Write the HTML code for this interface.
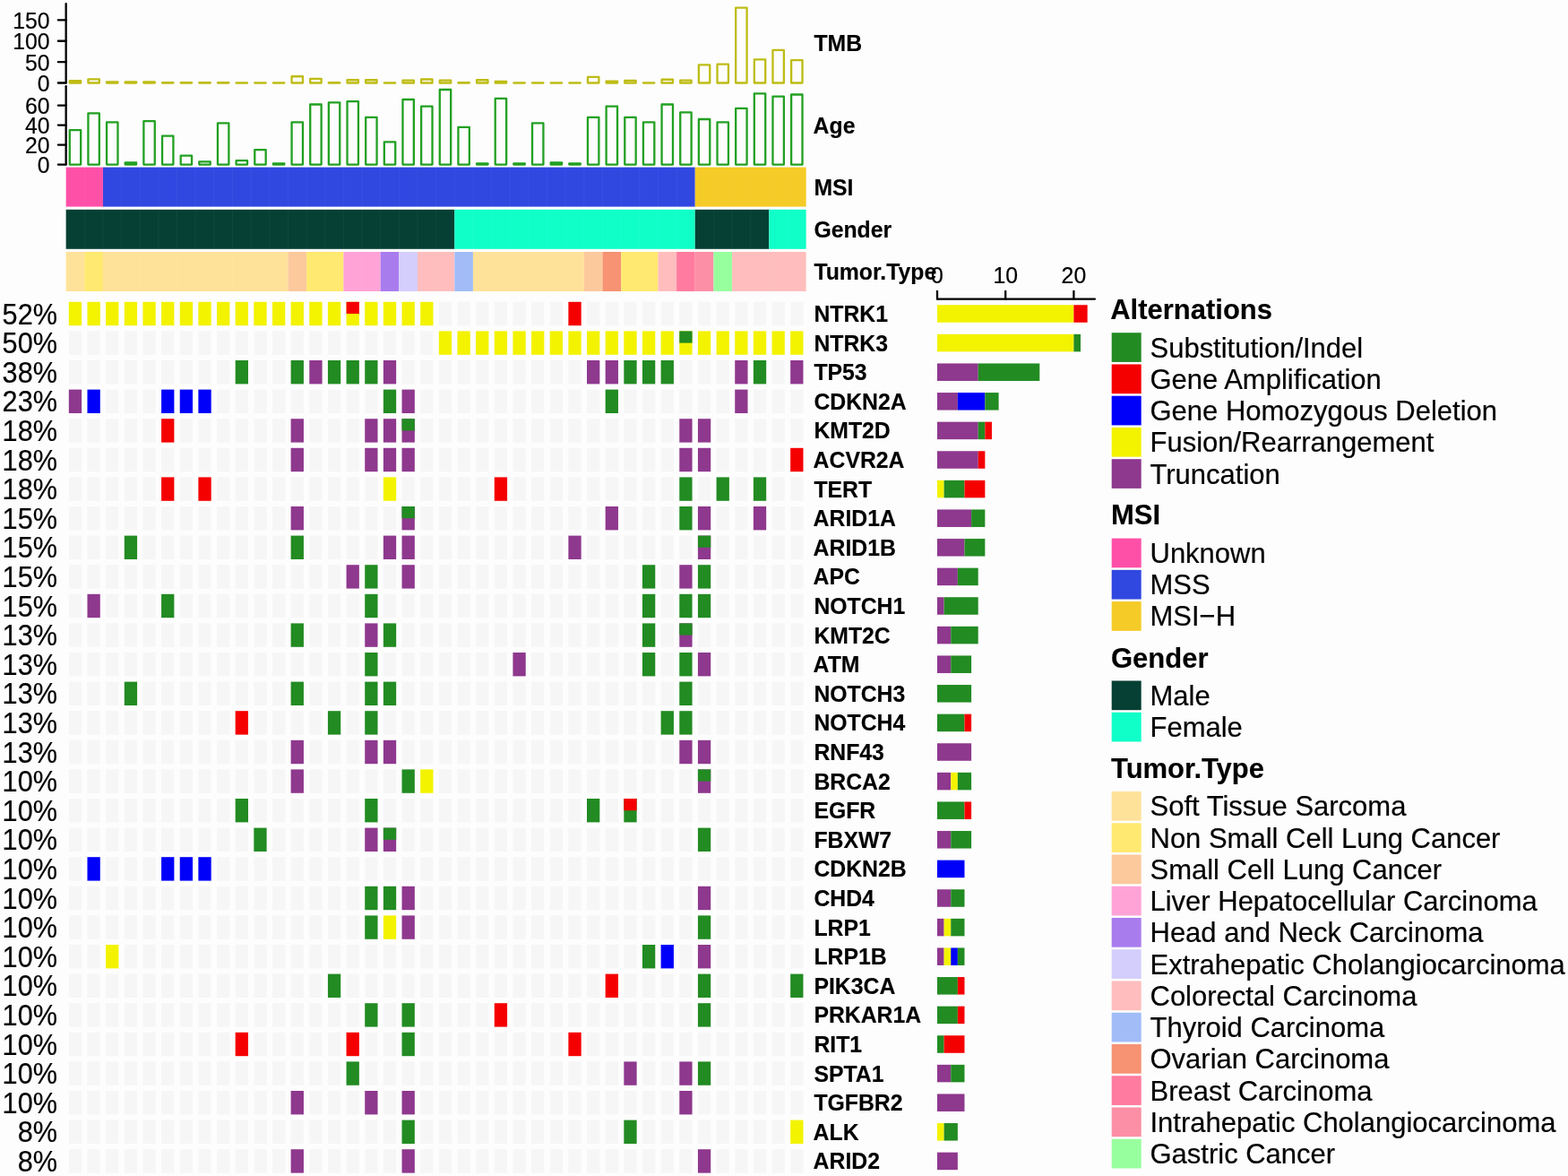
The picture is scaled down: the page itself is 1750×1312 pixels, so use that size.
<!DOCTYPE html>
<html lang="en">
<head>
<meta charset="utf-8">
<title>OncoPrint</title>
<style>
html,body{margin:0;padding:0;background:#fdfdfd;}
body{width:1750px;height:1312px;overflow:hidden;}
svg{display:block;font-family:"Liberation Sans",Arial,Helvetica,sans-serif;fill:#000;}
text{stroke:#000;stroke-width:0.2px;stroke-linejoin:round;}
text.b{font-weight:bold;stroke-width:0.15px;}
</style>
</head>
<body>
<svg width="1750" height="1312" viewBox="0 0 1750 1312">
<rect x="0" y="0" width="1750" height="1312" fill="#fdfdfd"/>
<g id="axes">
<line x1="73.65" y1="4.1" x2="73.65" y2="92.5" stroke="#000" stroke-width="2.3" stroke-linecap="round"/>
<line x1="64.85" y1="92.5" x2="73.65" y2="92.5" stroke="#000" stroke-width="2.3" stroke-linecap="round"/>
<text transform="translate(55.5 93.05) scale(1 1.06)" y="8.53" font-size="24.8" text-anchor="end">0</text>
<line x1="64.85" y1="69.14" x2="73.65" y2="69.14" stroke="#000" stroke-width="2.3" stroke-linecap="round"/>
<text transform="translate(55.5 69.69) scale(1 1.06)" y="8.53" font-size="24.8" text-anchor="end">50</text>
<line x1="64.85" y1="45.77" x2="73.65" y2="45.77" stroke="#000" stroke-width="2.3" stroke-linecap="round"/>
<text transform="translate(55.5 46.32) scale(1 1.06)" y="8.53" font-size="24.8" text-anchor="end">100</text>
<line x1="64.85" y1="22.41" x2="73.65" y2="22.41" stroke="#000" stroke-width="2.3" stroke-linecap="round"/>
<text transform="translate(55.5 22.96) scale(1 1.06)" y="8.53" font-size="24.8" text-anchor="end">150</text>
<line x1="73.65" y1="96.2" x2="73.65" y2="183.6" stroke="#000" stroke-width="2.3" stroke-linecap="round"/>
<line x1="64.85" y1="183.6" x2="73.65" y2="183.6" stroke="#000" stroke-width="2.3" stroke-linecap="round"/>
<text transform="translate(55.5 184.15) scale(1 1.06)" y="8.53" font-size="24.8" text-anchor="end">0</text>
<line x1="64.85" y1="161.6" x2="73.65" y2="161.6" stroke="#000" stroke-width="2.3" stroke-linecap="round"/>
<text transform="translate(55.5 162.15) scale(1 1.06)" y="8.53" font-size="24.8" text-anchor="end">20</text>
<line x1="64.85" y1="139.6" x2="73.65" y2="139.6" stroke="#000" stroke-width="2.3" stroke-linecap="round"/>
<text transform="translate(55.5 140.15) scale(1 1.06)" y="8.53" font-size="24.8" text-anchor="end">40</text>
<line x1="64.85" y1="117.6" x2="73.65" y2="117.6" stroke="#000" stroke-width="2.3" stroke-linecap="round"/>
<text transform="translate(55.5 118.15) scale(1 1.06)" y="8.53" font-size="24.8" text-anchor="end">60</text>
</g>
<g id="tmb" fill="none" stroke="#BEBC14" stroke-width="2.3" stroke-linejoin="round">
<path d="M77.78 92.5V90.16H90.18V92.5Z"/>
<path d="M98.42 92.5V88.29H110.83V92.5Z"/>
<path d="M119.08 92.5V91.29H131.47V92.5Z"/>
<path d="M139.73 92.5V91.29H152.12V92.5Z"/>
<path d="M160.38 92.5V91.29H172.77V92.5Z"/>
<path d="M181.03 92.5V92.22H193.42V92.5Z"/>
<path d="M201.68 92.5V92.22H214.07V92.5Z"/>
<path d="M222.33 92.5V92.22H234.72V92.5Z"/>
<path d="M242.97 92.5V92.22H255.37V92.5Z"/>
<path d="M263.62 92.5V92.36H276.02V92.5Z"/>
<path d="M284.28 92.5V92.36H296.68V92.5Z"/>
<path d="M304.93 92.5V92.5H317.32V92.5Z"/>
<path d="M325.57 92.5V85.26H337.97V92.5Z"/>
<path d="M346.22 92.5V87.83H358.62V92.5Z"/>
<path d="M366.87 92.5V92.27H379.27V92.5Z"/>
<path d="M387.53 92.5V89.23H399.93V92.5Z"/>
<path d="M408.18 92.5V89.23H420.57V92.5Z"/>
<path d="M428.82 92.5V92.5H441.22V92.5Z"/>
<path d="M449.47 92.5V89.7H461.87V92.5Z"/>
<path d="M470.12 92.5V88.48H482.52V92.5Z"/>
<path d="M490.78 92.5V89.7H503.18V92.5Z"/>
<path d="M511.43 92.5V92.03H523.83V92.5Z"/>
<path d="M532.07 92.5V89.23H544.48V92.5Z"/>
<path d="M552.72 92.5V90.86H565.12V92.5Z"/>
<path d="M573.37 92.5V92.36H585.77V92.5Z"/>
<path d="M594.02 92.5V92.36H606.42V92.5Z"/>
<path d="M614.67 92.5V92.36H627.07V92.5Z"/>
<path d="M635.32 92.5V92.5H647.73V92.5Z"/>
<path d="M655.97 92.5V85.96H668.38V92.5Z"/>
<path d="M676.62 92.5V90.63H689.02V92.5Z"/>
<path d="M697.27 92.5V89.93H709.67V92.5Z"/>
<path d="M717.92 92.5V92.36H730.32V92.5Z"/>
<path d="M738.57 92.5V88.76H750.98V92.5Z"/>
<path d="M759.22 92.5V89.7H771.62V92.5Z"/>
<path d="M779.87 92.5V72.41H792.27V92.5Z"/>
<path d="M800.52 92.5V71.71H812.92V92.5Z"/>
<path d="M821.17 92.5V8.62H833.57V92.5Z"/>
<path d="M841.82 92.5V66.33H854.23V92.5Z"/>
<path d="M862.47 92.5V55.91H874.88V92.5Z"/>
<path d="M883.12 92.5V67.03H895.52V92.5Z"/>
</g>
<g id="age" fill="none" stroke="#22A022" stroke-width="2.3" stroke-linejoin="round">
<path d="M77.78 183.6V145.1H90.18V183.6Z"/>
<path d="M98.42 183.6V126.4H110.83V183.6Z"/>
<path d="M119.08 183.6V136.3H131.47V183.6Z"/>
<path d="M139.73 183.6V181.4H152.12V183.6Z"/>
<path d="M160.38 183.6V135.2H172.77V183.6Z"/>
<path d="M181.03 183.6V151.7H193.42V183.6Z"/>
<path d="M201.68 183.6V173.7H214.07V183.6Z"/>
<path d="M222.33 183.6V180.3H234.72V183.6Z"/>
<path d="M242.97 183.6V137.4H255.37V183.6Z"/>
<path d="M263.62 183.6V179.2H276.02V183.6Z"/>
<path d="M284.28 183.6V167.1H296.68V183.6Z"/>
<path d="M304.93 183.6V182.5H317.32V183.6Z"/>
<path d="M325.57 183.6V136.3H337.97V183.6Z"/>
<path d="M346.22 183.6V116.5H358.62V183.6Z"/>
<path d="M366.87 183.6V114.3H379.27V183.6Z"/>
<path d="M387.53 183.6V113.2H399.93V183.6Z"/>
<path d="M408.18 183.6V130.8H420.57V183.6Z"/>
<path d="M428.82 183.6V158.3H441.22V183.6Z"/>
<path d="M449.47 183.6V111H461.87V183.6Z"/>
<path d="M470.12 183.6V118.7H482.52V183.6Z"/>
<path d="M490.78 183.6V100H503.18V183.6Z"/>
<path d="M511.43 183.6V141.8H523.83V183.6Z"/>
<path d="M532.07 183.6V182.5H544.48V183.6Z"/>
<path d="M552.72 183.6V109.9H565.12V183.6Z"/>
<path d="M573.37 183.6V182.5H585.77V183.6Z"/>
<path d="M594.02 183.6V137.4H606.42V183.6Z"/>
<path d="M614.67 183.6V181.4H627.07V183.6Z"/>
<path d="M635.32 183.6V182.5H647.73V183.6Z"/>
<path d="M655.97 183.6V130.8H668.38V183.6Z"/>
<path d="M676.62 183.6V118.7H689.02V183.6Z"/>
<path d="M697.27 183.6V130.8H709.67V183.6Z"/>
<path d="M717.92 183.6V136.3H730.32V183.6Z"/>
<path d="M738.57 183.6V116.5H750.98V183.6Z"/>
<path d="M759.22 183.6V125.3H771.62V183.6Z"/>
<path d="M779.87 183.6V133H792.27V183.6Z"/>
<path d="M800.52 183.6V136.3H812.92V183.6Z"/>
<path d="M821.17 183.6V120.9H833.57V183.6Z"/>
<path d="M841.82 183.6V104.4H854.23V183.6Z"/>
<path d="M862.47 183.6V107.7H874.88V183.6Z"/>
<path d="M883.12 183.6V105.5H895.52V183.6Z"/>
</g>
<g id="msi">
<rect x="73.65" y="186.6" width="41.3" height="44" fill="#FF50A8"/>
<rect x="114.95" y="186.6" width="660.8" height="44" fill="#3048E0"/>
<rect x="775.75" y="186.6" width="123.9" height="44" fill="#F5CB27"/>
<path d="M94.3 186.6v44M135.6 186.6v44M156.25 186.6v44M176.9 186.6v44M197.55 186.6v44M218.2 186.6v44M238.85 186.6v44M259.5 186.6v44M280.15 186.6v44M300.8 186.6v44M321.45 186.6v44M342.1 186.6v44M362.75 186.6v44M383.4 186.6v44M404.05 186.6v44M424.7 186.6v44M445.35 186.6v44M466 186.6v44M486.65 186.6v44M507.3 186.6v44M527.95 186.6v44M548.6 186.6v44M569.25 186.6v44M589.9 186.6v44M610.55 186.6v44M631.2 186.6v44M651.85 186.6v44M672.5 186.6v44M693.15 186.6v44M713.8 186.6v44M734.45 186.6v44M755.1 186.6v44M796.4 186.6v44M817.05 186.6v44M837.7 186.6v44M858.35 186.6v44M879 186.6v44" stroke="#fff" stroke-opacity="0.045" stroke-width="1" fill="none"/>
</g>
<g id="gender">
<rect x="73.65" y="233.8" width="433.65" height="44" fill="#064034"/>
<rect x="507.3" y="233.8" width="268.45" height="44" fill="#10FFC8"/>
<rect x="775.75" y="233.8" width="82.6" height="44" fill="#064034"/>
<rect x="858.35" y="233.8" width="41.3" height="44" fill="#10FFC8"/>
<path d="M94.3 233.8v44M114.95 233.8v44M135.6 233.8v44M156.25 233.8v44M176.9 233.8v44M197.55 233.8v44M218.2 233.8v44M238.85 233.8v44M259.5 233.8v44M280.15 233.8v44M300.8 233.8v44M321.45 233.8v44M342.1 233.8v44M362.75 233.8v44M383.4 233.8v44M404.05 233.8v44M424.7 233.8v44M445.35 233.8v44M466 233.8v44M486.65 233.8v44M527.95 233.8v44M548.6 233.8v44M569.25 233.8v44M589.9 233.8v44M610.55 233.8v44M631.2 233.8v44M651.85 233.8v44M672.5 233.8v44M693.15 233.8v44M713.8 233.8v44M734.45 233.8v44M755.1 233.8v44M796.4 233.8v44M817.05 233.8v44M837.7 233.8v44M879 233.8v44" stroke="#fff" stroke-opacity="0.045" stroke-width="1" fill="none"/>
</g>
<g id="tumortype">
<rect x="73.65" y="281" width="20.65" height="44" fill="#FFE29A"/>
<rect x="94.3" y="281" width="20.65" height="44" fill="#FFE970"/>
<rect x="114.95" y="281" width="206.5" height="44" fill="#FFE29A"/>
<rect x="321.45" y="281" width="20.65" height="44" fill="#FBC99C"/>
<rect x="342.1" y="281" width="41.3" height="44" fill="#FFE970"/>
<rect x="383.4" y="281" width="41.3" height="44" fill="#FFA3D7"/>
<rect x="424.7" y="281" width="20.65" height="44" fill="#A97CEE"/>
<rect x="445.35" y="281" width="20.65" height="44" fill="#D4CEFC"/>
<rect x="466" y="281" width="41.3" height="44" fill="#FFBDBD"/>
<rect x="507.3" y="281" width="20.65" height="44" fill="#A2BCF8"/>
<rect x="527.95" y="281" width="123.9" height="44" fill="#FFE29A"/>
<rect x="651.85" y="281" width="20.65" height="44" fill="#FBC99C"/>
<rect x="672.5" y="281" width="20.65" height="44" fill="#F79273"/>
<rect x="693.15" y="281" width="41.3" height="44" fill="#FFE970"/>
<rect x="734.45" y="281" width="20.65" height="44" fill="#FFBDBD"/>
<rect x="755.1" y="281" width="20.65" height="44" fill="#FF7B9F"/>
<rect x="775.75" y="281" width="20.65" height="44" fill="#FC8FA5"/>
<rect x="796.4" y="281" width="20.65" height="44" fill="#98FF9E"/>
<rect x="817.05" y="281" width="82.6" height="44" fill="#FFBDBD"/>
<path d="M135.6 281v44M156.25 281v44M176.9 281v44M197.55 281v44M218.2 281v44M238.85 281v44M259.5 281v44M280.15 281v44M300.8 281v44M362.75 281v44M404.05 281v44M486.65 281v44M548.6 281v44M569.25 281v44M589.9 281v44M610.55 281v44M631.2 281v44M713.8 281v44M837.7 281v44M858.35 281v44M879 281v44" stroke="#fff" stroke-opacity="0.045" stroke-width="1" fill="none"/>
</g>
<g id="annlabels" font-weight="bold">
<text transform="translate(908.4 48.5) scale(1 1.03)" y="8.53" font-size="24.8" class="b">TMB</text>
<text transform="translate(907.6 140.1) scale(1 1.03)" y="8.53" font-size="24.8" class="b">Age</text>
<text transform="translate(908.4 208.8) scale(1 1.03)" y="8.53" font-size="24.8" class="b">MSI</text>
<text transform="translate(908.4 256) scale(1 1.03)" y="8.53" font-size="24.8" class="b">Gender</text>
<text transform="translate(908.4 303.2) scale(1 1.03)" y="8.53" font-size="24.8" class="b">Tumor.Type</text>
</g>
<g id="bg" fill="#F6F6F6">
<rect x="489.82" y="336.8" width="14.3" height="26.4"/>
<rect x="510.47" y="336.8" width="14.3" height="26.4"/>
<rect x="531.12" y="336.8" width="14.3" height="26.4"/>
<rect x="551.77" y="336.8" width="14.3" height="26.4"/>
<rect x="572.42" y="336.8" width="14.3" height="26.4"/>
<rect x="593.07" y="336.8" width="14.3" height="26.4"/>
<rect x="613.72" y="336.8" width="14.3" height="26.4"/>
<rect x="655.02" y="336.8" width="14.3" height="26.4"/>
<rect x="675.67" y="336.8" width="14.3" height="26.4"/>
<rect x="696.32" y="336.8" width="14.3" height="26.4"/>
<rect x="716.97" y="336.8" width="14.3" height="26.4"/>
<rect x="737.62" y="336.8" width="14.3" height="26.4"/>
<rect x="758.27" y="336.8" width="14.3" height="26.4"/>
<rect x="778.92" y="336.8" width="14.3" height="26.4"/>
<rect x="799.57" y="336.8" width="14.3" height="26.4"/>
<rect x="820.22" y="336.8" width="14.3" height="26.4"/>
<rect x="840.87" y="336.8" width="14.3" height="26.4"/>
<rect x="861.52" y="336.8" width="14.3" height="26.4"/>
<rect x="882.17" y="336.8" width="14.3" height="26.4"/>
<rect x="76.83" y="369.4" width="14.3" height="26.4"/>
<rect x="97.48" y="369.4" width="14.3" height="26.4"/>
<rect x="118.12" y="369.4" width="14.3" height="26.4"/>
<rect x="138.78" y="369.4" width="14.3" height="26.4"/>
<rect x="159.43" y="369.4" width="14.3" height="26.4"/>
<rect x="180.08" y="369.4" width="14.3" height="26.4"/>
<rect x="200.73" y="369.4" width="14.3" height="26.4"/>
<rect x="221.38" y="369.4" width="14.3" height="26.4"/>
<rect x="242.03" y="369.4" width="14.3" height="26.4"/>
<rect x="262.68" y="369.4" width="14.3" height="26.4"/>
<rect x="283.32" y="369.4" width="14.3" height="26.4"/>
<rect x="303.97" y="369.4" width="14.3" height="26.4"/>
<rect x="324.62" y="369.4" width="14.3" height="26.4"/>
<rect x="345.28" y="369.4" width="14.3" height="26.4"/>
<rect x="365.93" y="369.4" width="14.3" height="26.4"/>
<rect x="386.57" y="369.4" width="14.3" height="26.4"/>
<rect x="407.22" y="369.4" width="14.3" height="26.4"/>
<rect x="427.87" y="369.4" width="14.3" height="26.4"/>
<rect x="448.53" y="369.4" width="14.3" height="26.4"/>
<rect x="469.18" y="369.4" width="14.3" height="26.4"/>
<rect x="76.83" y="402" width="14.3" height="26.4"/>
<rect x="97.48" y="402" width="14.3" height="26.4"/>
<rect x="118.12" y="402" width="14.3" height="26.4"/>
<rect x="138.78" y="402" width="14.3" height="26.4"/>
<rect x="159.43" y="402" width="14.3" height="26.4"/>
<rect x="180.08" y="402" width="14.3" height="26.4"/>
<rect x="200.73" y="402" width="14.3" height="26.4"/>
<rect x="221.38" y="402" width="14.3" height="26.4"/>
<rect x="242.03" y="402" width="14.3" height="26.4"/>
<rect x="283.32" y="402" width="14.3" height="26.4"/>
<rect x="303.97" y="402" width="14.3" height="26.4"/>
<rect x="448.53" y="402" width="14.3" height="26.4"/>
<rect x="469.18" y="402" width="14.3" height="26.4"/>
<rect x="489.82" y="402" width="14.3" height="26.4"/>
<rect x="510.47" y="402" width="14.3" height="26.4"/>
<rect x="531.12" y="402" width="14.3" height="26.4"/>
<rect x="551.77" y="402" width="14.3" height="26.4"/>
<rect x="572.42" y="402" width="14.3" height="26.4"/>
<rect x="593.07" y="402" width="14.3" height="26.4"/>
<rect x="613.72" y="402" width="14.3" height="26.4"/>
<rect x="634.37" y="402" width="14.3" height="26.4"/>
<rect x="758.27" y="402" width="14.3" height="26.4"/>
<rect x="778.92" y="402" width="14.3" height="26.4"/>
<rect x="799.57" y="402" width="14.3" height="26.4"/>
<rect x="861.52" y="402" width="14.3" height="26.4"/>
<rect x="118.12" y="434.6" width="14.3" height="26.4"/>
<rect x="138.78" y="434.6" width="14.3" height="26.4"/>
<rect x="159.43" y="434.6" width="14.3" height="26.4"/>
<rect x="242.03" y="434.6" width="14.3" height="26.4"/>
<rect x="262.68" y="434.6" width="14.3" height="26.4"/>
<rect x="283.32" y="434.6" width="14.3" height="26.4"/>
<rect x="303.97" y="434.6" width="14.3" height="26.4"/>
<rect x="324.62" y="434.6" width="14.3" height="26.4"/>
<rect x="345.28" y="434.6" width="14.3" height="26.4"/>
<rect x="365.93" y="434.6" width="14.3" height="26.4"/>
<rect x="386.57" y="434.6" width="14.3" height="26.4"/>
<rect x="407.22" y="434.6" width="14.3" height="26.4"/>
<rect x="469.18" y="434.6" width="14.3" height="26.4"/>
<rect x="489.82" y="434.6" width="14.3" height="26.4"/>
<rect x="510.47" y="434.6" width="14.3" height="26.4"/>
<rect x="531.12" y="434.6" width="14.3" height="26.4"/>
<rect x="551.77" y="434.6" width="14.3" height="26.4"/>
<rect x="572.42" y="434.6" width="14.3" height="26.4"/>
<rect x="593.07" y="434.6" width="14.3" height="26.4"/>
<rect x="613.72" y="434.6" width="14.3" height="26.4"/>
<rect x="634.37" y="434.6" width="14.3" height="26.4"/>
<rect x="655.02" y="434.6" width="14.3" height="26.4"/>
<rect x="696.32" y="434.6" width="14.3" height="26.4"/>
<rect x="716.97" y="434.6" width="14.3" height="26.4"/>
<rect x="737.62" y="434.6" width="14.3" height="26.4"/>
<rect x="758.27" y="434.6" width="14.3" height="26.4"/>
<rect x="778.92" y="434.6" width="14.3" height="26.4"/>
<rect x="799.57" y="434.6" width="14.3" height="26.4"/>
<rect x="840.87" y="434.6" width="14.3" height="26.4"/>
<rect x="861.52" y="434.6" width="14.3" height="26.4"/>
<rect x="882.17" y="434.6" width="14.3" height="26.4"/>
<rect x="76.83" y="467.2" width="14.3" height="26.4"/>
<rect x="97.48" y="467.2" width="14.3" height="26.4"/>
<rect x="118.12" y="467.2" width="14.3" height="26.4"/>
<rect x="138.78" y="467.2" width="14.3" height="26.4"/>
<rect x="159.43" y="467.2" width="14.3" height="26.4"/>
<rect x="200.73" y="467.2" width="14.3" height="26.4"/>
<rect x="221.38" y="467.2" width="14.3" height="26.4"/>
<rect x="242.03" y="467.2" width="14.3" height="26.4"/>
<rect x="262.68" y="467.2" width="14.3" height="26.4"/>
<rect x="283.32" y="467.2" width="14.3" height="26.4"/>
<rect x="303.97" y="467.2" width="14.3" height="26.4"/>
<rect x="345.28" y="467.2" width="14.3" height="26.4"/>
<rect x="365.93" y="467.2" width="14.3" height="26.4"/>
<rect x="386.57" y="467.2" width="14.3" height="26.4"/>
<rect x="469.18" y="467.2" width="14.3" height="26.4"/>
<rect x="489.82" y="467.2" width="14.3" height="26.4"/>
<rect x="510.47" y="467.2" width="14.3" height="26.4"/>
<rect x="531.12" y="467.2" width="14.3" height="26.4"/>
<rect x="551.77" y="467.2" width="14.3" height="26.4"/>
<rect x="572.42" y="467.2" width="14.3" height="26.4"/>
<rect x="593.07" y="467.2" width="14.3" height="26.4"/>
<rect x="613.72" y="467.2" width="14.3" height="26.4"/>
<rect x="634.37" y="467.2" width="14.3" height="26.4"/>
<rect x="655.02" y="467.2" width="14.3" height="26.4"/>
<rect x="675.67" y="467.2" width="14.3" height="26.4"/>
<rect x="696.32" y="467.2" width="14.3" height="26.4"/>
<rect x="716.97" y="467.2" width="14.3" height="26.4"/>
<rect x="737.62" y="467.2" width="14.3" height="26.4"/>
<rect x="799.57" y="467.2" width="14.3" height="26.4"/>
<rect x="820.22" y="467.2" width="14.3" height="26.4"/>
<rect x="840.87" y="467.2" width="14.3" height="26.4"/>
<rect x="861.52" y="467.2" width="14.3" height="26.4"/>
<rect x="882.17" y="467.2" width="14.3" height="26.4"/>
<rect x="76.83" y="499.8" width="14.3" height="26.4"/>
<rect x="97.48" y="499.8" width="14.3" height="26.4"/>
<rect x="118.12" y="499.8" width="14.3" height="26.4"/>
<rect x="138.78" y="499.8" width="14.3" height="26.4"/>
<rect x="159.43" y="499.8" width="14.3" height="26.4"/>
<rect x="180.08" y="499.8" width="14.3" height="26.4"/>
<rect x="200.73" y="499.8" width="14.3" height="26.4"/>
<rect x="221.38" y="499.8" width="14.3" height="26.4"/>
<rect x="242.03" y="499.8" width="14.3" height="26.4"/>
<rect x="262.68" y="499.8" width="14.3" height="26.4"/>
<rect x="283.32" y="499.8" width="14.3" height="26.4"/>
<rect x="303.97" y="499.8" width="14.3" height="26.4"/>
<rect x="345.28" y="499.8" width="14.3" height="26.4"/>
<rect x="365.93" y="499.8" width="14.3" height="26.4"/>
<rect x="386.57" y="499.8" width="14.3" height="26.4"/>
<rect x="469.18" y="499.8" width="14.3" height="26.4"/>
<rect x="489.82" y="499.8" width="14.3" height="26.4"/>
<rect x="510.47" y="499.8" width="14.3" height="26.4"/>
<rect x="531.12" y="499.8" width="14.3" height="26.4"/>
<rect x="551.77" y="499.8" width="14.3" height="26.4"/>
<rect x="572.42" y="499.8" width="14.3" height="26.4"/>
<rect x="593.07" y="499.8" width="14.3" height="26.4"/>
<rect x="613.72" y="499.8" width="14.3" height="26.4"/>
<rect x="634.37" y="499.8" width="14.3" height="26.4"/>
<rect x="655.02" y="499.8" width="14.3" height="26.4"/>
<rect x="675.67" y="499.8" width="14.3" height="26.4"/>
<rect x="696.32" y="499.8" width="14.3" height="26.4"/>
<rect x="716.97" y="499.8" width="14.3" height="26.4"/>
<rect x="737.62" y="499.8" width="14.3" height="26.4"/>
<rect x="799.57" y="499.8" width="14.3" height="26.4"/>
<rect x="820.22" y="499.8" width="14.3" height="26.4"/>
<rect x="840.87" y="499.8" width="14.3" height="26.4"/>
<rect x="861.52" y="499.8" width="14.3" height="26.4"/>
<rect x="76.83" y="532.4" width="14.3" height="26.4"/>
<rect x="97.48" y="532.4" width="14.3" height="26.4"/>
<rect x="118.12" y="532.4" width="14.3" height="26.4"/>
<rect x="138.78" y="532.4" width="14.3" height="26.4"/>
<rect x="159.43" y="532.4" width="14.3" height="26.4"/>
<rect x="200.73" y="532.4" width="14.3" height="26.4"/>
<rect x="242.03" y="532.4" width="14.3" height="26.4"/>
<rect x="262.68" y="532.4" width="14.3" height="26.4"/>
<rect x="283.32" y="532.4" width="14.3" height="26.4"/>
<rect x="303.97" y="532.4" width="14.3" height="26.4"/>
<rect x="324.62" y="532.4" width="14.3" height="26.4"/>
<rect x="345.28" y="532.4" width="14.3" height="26.4"/>
<rect x="365.93" y="532.4" width="14.3" height="26.4"/>
<rect x="386.57" y="532.4" width="14.3" height="26.4"/>
<rect x="407.22" y="532.4" width="14.3" height="26.4"/>
<rect x="448.53" y="532.4" width="14.3" height="26.4"/>
<rect x="469.18" y="532.4" width="14.3" height="26.4"/>
<rect x="489.82" y="532.4" width="14.3" height="26.4"/>
<rect x="510.47" y="532.4" width="14.3" height="26.4"/>
<rect x="531.12" y="532.4" width="14.3" height="26.4"/>
<rect x="572.42" y="532.4" width="14.3" height="26.4"/>
<rect x="593.07" y="532.4" width="14.3" height="26.4"/>
<rect x="613.72" y="532.4" width="14.3" height="26.4"/>
<rect x="634.37" y="532.4" width="14.3" height="26.4"/>
<rect x="655.02" y="532.4" width="14.3" height="26.4"/>
<rect x="675.67" y="532.4" width="14.3" height="26.4"/>
<rect x="696.32" y="532.4" width="14.3" height="26.4"/>
<rect x="716.97" y="532.4" width="14.3" height="26.4"/>
<rect x="737.62" y="532.4" width="14.3" height="26.4"/>
<rect x="778.92" y="532.4" width="14.3" height="26.4"/>
<rect x="820.22" y="532.4" width="14.3" height="26.4"/>
<rect x="861.52" y="532.4" width="14.3" height="26.4"/>
<rect x="882.17" y="532.4" width="14.3" height="26.4"/>
<rect x="76.83" y="565" width="14.3" height="26.4"/>
<rect x="97.48" y="565" width="14.3" height="26.4"/>
<rect x="118.12" y="565" width="14.3" height="26.4"/>
<rect x="138.78" y="565" width="14.3" height="26.4"/>
<rect x="159.43" y="565" width="14.3" height="26.4"/>
<rect x="180.08" y="565" width="14.3" height="26.4"/>
<rect x="200.73" y="565" width="14.3" height="26.4"/>
<rect x="221.38" y="565" width="14.3" height="26.4"/>
<rect x="242.03" y="565" width="14.3" height="26.4"/>
<rect x="262.68" y="565" width="14.3" height="26.4"/>
<rect x="283.32" y="565" width="14.3" height="26.4"/>
<rect x="303.97" y="565" width="14.3" height="26.4"/>
<rect x="345.28" y="565" width="14.3" height="26.4"/>
<rect x="365.93" y="565" width="14.3" height="26.4"/>
<rect x="386.57" y="565" width="14.3" height="26.4"/>
<rect x="407.22" y="565" width="14.3" height="26.4"/>
<rect x="427.87" y="565" width="14.3" height="26.4"/>
<rect x="469.18" y="565" width="14.3" height="26.4"/>
<rect x="489.82" y="565" width="14.3" height="26.4"/>
<rect x="510.47" y="565" width="14.3" height="26.4"/>
<rect x="531.12" y="565" width="14.3" height="26.4"/>
<rect x="551.77" y="565" width="14.3" height="26.4"/>
<rect x="572.42" y="565" width="14.3" height="26.4"/>
<rect x="593.07" y="565" width="14.3" height="26.4"/>
<rect x="613.72" y="565" width="14.3" height="26.4"/>
<rect x="634.37" y="565" width="14.3" height="26.4"/>
<rect x="655.02" y="565" width="14.3" height="26.4"/>
<rect x="696.32" y="565" width="14.3" height="26.4"/>
<rect x="716.97" y="565" width="14.3" height="26.4"/>
<rect x="737.62" y="565" width="14.3" height="26.4"/>
<rect x="799.57" y="565" width="14.3" height="26.4"/>
<rect x="820.22" y="565" width="14.3" height="26.4"/>
<rect x="861.52" y="565" width="14.3" height="26.4"/>
<rect x="882.17" y="565" width="14.3" height="26.4"/>
<rect x="76.83" y="597.6" width="14.3" height="26.4"/>
<rect x="97.48" y="597.6" width="14.3" height="26.4"/>
<rect x="118.12" y="597.6" width="14.3" height="26.4"/>
<rect x="159.43" y="597.6" width="14.3" height="26.4"/>
<rect x="180.08" y="597.6" width="14.3" height="26.4"/>
<rect x="200.73" y="597.6" width="14.3" height="26.4"/>
<rect x="221.38" y="597.6" width="14.3" height="26.4"/>
<rect x="242.03" y="597.6" width="14.3" height="26.4"/>
<rect x="262.68" y="597.6" width="14.3" height="26.4"/>
<rect x="283.32" y="597.6" width="14.3" height="26.4"/>
<rect x="303.97" y="597.6" width="14.3" height="26.4"/>
<rect x="345.28" y="597.6" width="14.3" height="26.4"/>
<rect x="365.93" y="597.6" width="14.3" height="26.4"/>
<rect x="386.57" y="597.6" width="14.3" height="26.4"/>
<rect x="407.22" y="597.6" width="14.3" height="26.4"/>
<rect x="469.18" y="597.6" width="14.3" height="26.4"/>
<rect x="489.82" y="597.6" width="14.3" height="26.4"/>
<rect x="510.47" y="597.6" width="14.3" height="26.4"/>
<rect x="531.12" y="597.6" width="14.3" height="26.4"/>
<rect x="551.77" y="597.6" width="14.3" height="26.4"/>
<rect x="572.42" y="597.6" width="14.3" height="26.4"/>
<rect x="593.07" y="597.6" width="14.3" height="26.4"/>
<rect x="613.72" y="597.6" width="14.3" height="26.4"/>
<rect x="655.02" y="597.6" width="14.3" height="26.4"/>
<rect x="675.67" y="597.6" width="14.3" height="26.4"/>
<rect x="696.32" y="597.6" width="14.3" height="26.4"/>
<rect x="716.97" y="597.6" width="14.3" height="26.4"/>
<rect x="737.62" y="597.6" width="14.3" height="26.4"/>
<rect x="758.27" y="597.6" width="14.3" height="26.4"/>
<rect x="799.57" y="597.6" width="14.3" height="26.4"/>
<rect x="820.22" y="597.6" width="14.3" height="26.4"/>
<rect x="840.87" y="597.6" width="14.3" height="26.4"/>
<rect x="861.52" y="597.6" width="14.3" height="26.4"/>
<rect x="882.17" y="597.6" width="14.3" height="26.4"/>
<rect x="76.83" y="630.2" width="14.3" height="26.4"/>
<rect x="97.48" y="630.2" width="14.3" height="26.4"/>
<rect x="118.12" y="630.2" width="14.3" height="26.4"/>
<rect x="138.78" y="630.2" width="14.3" height="26.4"/>
<rect x="159.43" y="630.2" width="14.3" height="26.4"/>
<rect x="180.08" y="630.2" width="14.3" height="26.4"/>
<rect x="200.73" y="630.2" width="14.3" height="26.4"/>
<rect x="221.38" y="630.2" width="14.3" height="26.4"/>
<rect x="242.03" y="630.2" width="14.3" height="26.4"/>
<rect x="262.68" y="630.2" width="14.3" height="26.4"/>
<rect x="283.32" y="630.2" width="14.3" height="26.4"/>
<rect x="303.97" y="630.2" width="14.3" height="26.4"/>
<rect x="324.62" y="630.2" width="14.3" height="26.4"/>
<rect x="345.28" y="630.2" width="14.3" height="26.4"/>
<rect x="365.93" y="630.2" width="14.3" height="26.4"/>
<rect x="427.87" y="630.2" width="14.3" height="26.4"/>
<rect x="469.18" y="630.2" width="14.3" height="26.4"/>
<rect x="489.82" y="630.2" width="14.3" height="26.4"/>
<rect x="510.47" y="630.2" width="14.3" height="26.4"/>
<rect x="531.12" y="630.2" width="14.3" height="26.4"/>
<rect x="551.77" y="630.2" width="14.3" height="26.4"/>
<rect x="572.42" y="630.2" width="14.3" height="26.4"/>
<rect x="593.07" y="630.2" width="14.3" height="26.4"/>
<rect x="613.72" y="630.2" width="14.3" height="26.4"/>
<rect x="634.37" y="630.2" width="14.3" height="26.4"/>
<rect x="655.02" y="630.2" width="14.3" height="26.4"/>
<rect x="675.67" y="630.2" width="14.3" height="26.4"/>
<rect x="696.32" y="630.2" width="14.3" height="26.4"/>
<rect x="737.62" y="630.2" width="14.3" height="26.4"/>
<rect x="799.57" y="630.2" width="14.3" height="26.4"/>
<rect x="820.22" y="630.2" width="14.3" height="26.4"/>
<rect x="840.87" y="630.2" width="14.3" height="26.4"/>
<rect x="861.52" y="630.2" width="14.3" height="26.4"/>
<rect x="882.17" y="630.2" width="14.3" height="26.4"/>
<rect x="76.83" y="662.8" width="14.3" height="26.4"/>
<rect x="118.12" y="662.8" width="14.3" height="26.4"/>
<rect x="138.78" y="662.8" width="14.3" height="26.4"/>
<rect x="159.43" y="662.8" width="14.3" height="26.4"/>
<rect x="200.73" y="662.8" width="14.3" height="26.4"/>
<rect x="221.38" y="662.8" width="14.3" height="26.4"/>
<rect x="242.03" y="662.8" width="14.3" height="26.4"/>
<rect x="262.68" y="662.8" width="14.3" height="26.4"/>
<rect x="283.32" y="662.8" width="14.3" height="26.4"/>
<rect x="303.97" y="662.8" width="14.3" height="26.4"/>
<rect x="324.62" y="662.8" width="14.3" height="26.4"/>
<rect x="345.28" y="662.8" width="14.3" height="26.4"/>
<rect x="365.93" y="662.8" width="14.3" height="26.4"/>
<rect x="386.57" y="662.8" width="14.3" height="26.4"/>
<rect x="427.87" y="662.8" width="14.3" height="26.4"/>
<rect x="448.53" y="662.8" width="14.3" height="26.4"/>
<rect x="469.18" y="662.8" width="14.3" height="26.4"/>
<rect x="489.82" y="662.8" width="14.3" height="26.4"/>
<rect x="510.47" y="662.8" width="14.3" height="26.4"/>
<rect x="531.12" y="662.8" width="14.3" height="26.4"/>
<rect x="551.77" y="662.8" width="14.3" height="26.4"/>
<rect x="572.42" y="662.8" width="14.3" height="26.4"/>
<rect x="593.07" y="662.8" width="14.3" height="26.4"/>
<rect x="613.72" y="662.8" width="14.3" height="26.4"/>
<rect x="634.37" y="662.8" width="14.3" height="26.4"/>
<rect x="655.02" y="662.8" width="14.3" height="26.4"/>
<rect x="675.67" y="662.8" width="14.3" height="26.4"/>
<rect x="696.32" y="662.8" width="14.3" height="26.4"/>
<rect x="737.62" y="662.8" width="14.3" height="26.4"/>
<rect x="799.57" y="662.8" width="14.3" height="26.4"/>
<rect x="820.22" y="662.8" width="14.3" height="26.4"/>
<rect x="840.87" y="662.8" width="14.3" height="26.4"/>
<rect x="861.52" y="662.8" width="14.3" height="26.4"/>
<rect x="882.17" y="662.8" width="14.3" height="26.4"/>
<rect x="76.83" y="695.4" width="14.3" height="26.4"/>
<rect x="97.48" y="695.4" width="14.3" height="26.4"/>
<rect x="118.12" y="695.4" width="14.3" height="26.4"/>
<rect x="138.78" y="695.4" width="14.3" height="26.4"/>
<rect x="159.43" y="695.4" width="14.3" height="26.4"/>
<rect x="180.08" y="695.4" width="14.3" height="26.4"/>
<rect x="200.73" y="695.4" width="14.3" height="26.4"/>
<rect x="221.38" y="695.4" width="14.3" height="26.4"/>
<rect x="242.03" y="695.4" width="14.3" height="26.4"/>
<rect x="262.68" y="695.4" width="14.3" height="26.4"/>
<rect x="283.32" y="695.4" width="14.3" height="26.4"/>
<rect x="303.97" y="695.4" width="14.3" height="26.4"/>
<rect x="345.28" y="695.4" width="14.3" height="26.4"/>
<rect x="365.93" y="695.4" width="14.3" height="26.4"/>
<rect x="386.57" y="695.4" width="14.3" height="26.4"/>
<rect x="448.53" y="695.4" width="14.3" height="26.4"/>
<rect x="469.18" y="695.4" width="14.3" height="26.4"/>
<rect x="489.82" y="695.4" width="14.3" height="26.4"/>
<rect x="510.47" y="695.4" width="14.3" height="26.4"/>
<rect x="531.12" y="695.4" width="14.3" height="26.4"/>
<rect x="551.77" y="695.4" width="14.3" height="26.4"/>
<rect x="572.42" y="695.4" width="14.3" height="26.4"/>
<rect x="593.07" y="695.4" width="14.3" height="26.4"/>
<rect x="613.72" y="695.4" width="14.3" height="26.4"/>
<rect x="634.37" y="695.4" width="14.3" height="26.4"/>
<rect x="655.02" y="695.4" width="14.3" height="26.4"/>
<rect x="675.67" y="695.4" width="14.3" height="26.4"/>
<rect x="696.32" y="695.4" width="14.3" height="26.4"/>
<rect x="737.62" y="695.4" width="14.3" height="26.4"/>
<rect x="778.92" y="695.4" width="14.3" height="26.4"/>
<rect x="799.57" y="695.4" width="14.3" height="26.4"/>
<rect x="820.22" y="695.4" width="14.3" height="26.4"/>
<rect x="840.87" y="695.4" width="14.3" height="26.4"/>
<rect x="861.52" y="695.4" width="14.3" height="26.4"/>
<rect x="882.17" y="695.4" width="14.3" height="26.4"/>
<rect x="76.83" y="728" width="14.3" height="26.4"/>
<rect x="97.48" y="728" width="14.3" height="26.4"/>
<rect x="118.12" y="728" width="14.3" height="26.4"/>
<rect x="138.78" y="728" width="14.3" height="26.4"/>
<rect x="159.43" y="728" width="14.3" height="26.4"/>
<rect x="180.08" y="728" width="14.3" height="26.4"/>
<rect x="200.73" y="728" width="14.3" height="26.4"/>
<rect x="221.38" y="728" width="14.3" height="26.4"/>
<rect x="242.03" y="728" width="14.3" height="26.4"/>
<rect x="262.68" y="728" width="14.3" height="26.4"/>
<rect x="283.32" y="728" width="14.3" height="26.4"/>
<rect x="303.97" y="728" width="14.3" height="26.4"/>
<rect x="324.62" y="728" width="14.3" height="26.4"/>
<rect x="345.28" y="728" width="14.3" height="26.4"/>
<rect x="365.93" y="728" width="14.3" height="26.4"/>
<rect x="386.57" y="728" width="14.3" height="26.4"/>
<rect x="427.87" y="728" width="14.3" height="26.4"/>
<rect x="448.53" y="728" width="14.3" height="26.4"/>
<rect x="469.18" y="728" width="14.3" height="26.4"/>
<rect x="489.82" y="728" width="14.3" height="26.4"/>
<rect x="510.47" y="728" width="14.3" height="26.4"/>
<rect x="531.12" y="728" width="14.3" height="26.4"/>
<rect x="551.77" y="728" width="14.3" height="26.4"/>
<rect x="593.07" y="728" width="14.3" height="26.4"/>
<rect x="613.72" y="728" width="14.3" height="26.4"/>
<rect x="634.37" y="728" width="14.3" height="26.4"/>
<rect x="655.02" y="728" width="14.3" height="26.4"/>
<rect x="675.67" y="728" width="14.3" height="26.4"/>
<rect x="696.32" y="728" width="14.3" height="26.4"/>
<rect x="737.62" y="728" width="14.3" height="26.4"/>
<rect x="799.57" y="728" width="14.3" height="26.4"/>
<rect x="820.22" y="728" width="14.3" height="26.4"/>
<rect x="840.87" y="728" width="14.3" height="26.4"/>
<rect x="861.52" y="728" width="14.3" height="26.4"/>
<rect x="882.17" y="728" width="14.3" height="26.4"/>
<rect x="76.83" y="760.6" width="14.3" height="26.4"/>
<rect x="97.48" y="760.6" width="14.3" height="26.4"/>
<rect x="118.12" y="760.6" width="14.3" height="26.4"/>
<rect x="159.43" y="760.6" width="14.3" height="26.4"/>
<rect x="180.08" y="760.6" width="14.3" height="26.4"/>
<rect x="200.73" y="760.6" width="14.3" height="26.4"/>
<rect x="221.38" y="760.6" width="14.3" height="26.4"/>
<rect x="242.03" y="760.6" width="14.3" height="26.4"/>
<rect x="262.68" y="760.6" width="14.3" height="26.4"/>
<rect x="283.32" y="760.6" width="14.3" height="26.4"/>
<rect x="303.97" y="760.6" width="14.3" height="26.4"/>
<rect x="345.28" y="760.6" width="14.3" height="26.4"/>
<rect x="365.93" y="760.6" width="14.3" height="26.4"/>
<rect x="386.57" y="760.6" width="14.3" height="26.4"/>
<rect x="448.53" y="760.6" width="14.3" height="26.4"/>
<rect x="469.18" y="760.6" width="14.3" height="26.4"/>
<rect x="489.82" y="760.6" width="14.3" height="26.4"/>
<rect x="510.47" y="760.6" width="14.3" height="26.4"/>
<rect x="531.12" y="760.6" width="14.3" height="26.4"/>
<rect x="551.77" y="760.6" width="14.3" height="26.4"/>
<rect x="572.42" y="760.6" width="14.3" height="26.4"/>
<rect x="593.07" y="760.6" width="14.3" height="26.4"/>
<rect x="613.72" y="760.6" width="14.3" height="26.4"/>
<rect x="634.37" y="760.6" width="14.3" height="26.4"/>
<rect x="655.02" y="760.6" width="14.3" height="26.4"/>
<rect x="675.67" y="760.6" width="14.3" height="26.4"/>
<rect x="696.32" y="760.6" width="14.3" height="26.4"/>
<rect x="716.97" y="760.6" width="14.3" height="26.4"/>
<rect x="737.62" y="760.6" width="14.3" height="26.4"/>
<rect x="778.92" y="760.6" width="14.3" height="26.4"/>
<rect x="799.57" y="760.6" width="14.3" height="26.4"/>
<rect x="820.22" y="760.6" width="14.3" height="26.4"/>
<rect x="840.87" y="760.6" width="14.3" height="26.4"/>
<rect x="861.52" y="760.6" width="14.3" height="26.4"/>
<rect x="882.17" y="760.6" width="14.3" height="26.4"/>
<rect x="76.83" y="793.2" width="14.3" height="26.4"/>
<rect x="97.48" y="793.2" width="14.3" height="26.4"/>
<rect x="118.12" y="793.2" width="14.3" height="26.4"/>
<rect x="138.78" y="793.2" width="14.3" height="26.4"/>
<rect x="159.43" y="793.2" width="14.3" height="26.4"/>
<rect x="180.08" y="793.2" width="14.3" height="26.4"/>
<rect x="200.73" y="793.2" width="14.3" height="26.4"/>
<rect x="221.38" y="793.2" width="14.3" height="26.4"/>
<rect x="242.03" y="793.2" width="14.3" height="26.4"/>
<rect x="283.32" y="793.2" width="14.3" height="26.4"/>
<rect x="303.97" y="793.2" width="14.3" height="26.4"/>
<rect x="324.62" y="793.2" width="14.3" height="26.4"/>
<rect x="345.28" y="793.2" width="14.3" height="26.4"/>
<rect x="386.57" y="793.2" width="14.3" height="26.4"/>
<rect x="427.87" y="793.2" width="14.3" height="26.4"/>
<rect x="448.53" y="793.2" width="14.3" height="26.4"/>
<rect x="469.18" y="793.2" width="14.3" height="26.4"/>
<rect x="489.82" y="793.2" width="14.3" height="26.4"/>
<rect x="510.47" y="793.2" width="14.3" height="26.4"/>
<rect x="531.12" y="793.2" width="14.3" height="26.4"/>
<rect x="551.77" y="793.2" width="14.3" height="26.4"/>
<rect x="572.42" y="793.2" width="14.3" height="26.4"/>
<rect x="593.07" y="793.2" width="14.3" height="26.4"/>
<rect x="613.72" y="793.2" width="14.3" height="26.4"/>
<rect x="634.37" y="793.2" width="14.3" height="26.4"/>
<rect x="655.02" y="793.2" width="14.3" height="26.4"/>
<rect x="675.67" y="793.2" width="14.3" height="26.4"/>
<rect x="696.32" y="793.2" width="14.3" height="26.4"/>
<rect x="716.97" y="793.2" width="14.3" height="26.4"/>
<rect x="778.92" y="793.2" width="14.3" height="26.4"/>
<rect x="799.57" y="793.2" width="14.3" height="26.4"/>
<rect x="820.22" y="793.2" width="14.3" height="26.4"/>
<rect x="840.87" y="793.2" width="14.3" height="26.4"/>
<rect x="861.52" y="793.2" width="14.3" height="26.4"/>
<rect x="882.17" y="793.2" width="14.3" height="26.4"/>
<rect x="76.83" y="825.8" width="14.3" height="26.4"/>
<rect x="97.48" y="825.8" width="14.3" height="26.4"/>
<rect x="118.12" y="825.8" width="14.3" height="26.4"/>
<rect x="138.78" y="825.8" width="14.3" height="26.4"/>
<rect x="159.43" y="825.8" width="14.3" height="26.4"/>
<rect x="180.08" y="825.8" width="14.3" height="26.4"/>
<rect x="200.73" y="825.8" width="14.3" height="26.4"/>
<rect x="221.38" y="825.8" width="14.3" height="26.4"/>
<rect x="242.03" y="825.8" width="14.3" height="26.4"/>
<rect x="262.68" y="825.8" width="14.3" height="26.4"/>
<rect x="283.32" y="825.8" width="14.3" height="26.4"/>
<rect x="303.97" y="825.8" width="14.3" height="26.4"/>
<rect x="345.28" y="825.8" width="14.3" height="26.4"/>
<rect x="365.93" y="825.8" width="14.3" height="26.4"/>
<rect x="386.57" y="825.8" width="14.3" height="26.4"/>
<rect x="448.53" y="825.8" width="14.3" height="26.4"/>
<rect x="469.18" y="825.8" width="14.3" height="26.4"/>
<rect x="489.82" y="825.8" width="14.3" height="26.4"/>
<rect x="510.47" y="825.8" width="14.3" height="26.4"/>
<rect x="531.12" y="825.8" width="14.3" height="26.4"/>
<rect x="551.77" y="825.8" width="14.3" height="26.4"/>
<rect x="572.42" y="825.8" width="14.3" height="26.4"/>
<rect x="593.07" y="825.8" width="14.3" height="26.4"/>
<rect x="613.72" y="825.8" width="14.3" height="26.4"/>
<rect x="634.37" y="825.8" width="14.3" height="26.4"/>
<rect x="655.02" y="825.8" width="14.3" height="26.4"/>
<rect x="675.67" y="825.8" width="14.3" height="26.4"/>
<rect x="696.32" y="825.8" width="14.3" height="26.4"/>
<rect x="716.97" y="825.8" width="14.3" height="26.4"/>
<rect x="737.62" y="825.8" width="14.3" height="26.4"/>
<rect x="799.57" y="825.8" width="14.3" height="26.4"/>
<rect x="820.22" y="825.8" width="14.3" height="26.4"/>
<rect x="840.87" y="825.8" width="14.3" height="26.4"/>
<rect x="861.52" y="825.8" width="14.3" height="26.4"/>
<rect x="882.17" y="825.8" width="14.3" height="26.4"/>
<rect x="76.83" y="858.4" width="14.3" height="26.4"/>
<rect x="97.48" y="858.4" width="14.3" height="26.4"/>
<rect x="118.12" y="858.4" width="14.3" height="26.4"/>
<rect x="138.78" y="858.4" width="14.3" height="26.4"/>
<rect x="159.43" y="858.4" width="14.3" height="26.4"/>
<rect x="180.08" y="858.4" width="14.3" height="26.4"/>
<rect x="200.73" y="858.4" width="14.3" height="26.4"/>
<rect x="221.38" y="858.4" width="14.3" height="26.4"/>
<rect x="242.03" y="858.4" width="14.3" height="26.4"/>
<rect x="262.68" y="858.4" width="14.3" height="26.4"/>
<rect x="283.32" y="858.4" width="14.3" height="26.4"/>
<rect x="303.97" y="858.4" width="14.3" height="26.4"/>
<rect x="345.28" y="858.4" width="14.3" height="26.4"/>
<rect x="365.93" y="858.4" width="14.3" height="26.4"/>
<rect x="386.57" y="858.4" width="14.3" height="26.4"/>
<rect x="407.22" y="858.4" width="14.3" height="26.4"/>
<rect x="427.87" y="858.4" width="14.3" height="26.4"/>
<rect x="489.82" y="858.4" width="14.3" height="26.4"/>
<rect x="510.47" y="858.4" width="14.3" height="26.4"/>
<rect x="531.12" y="858.4" width="14.3" height="26.4"/>
<rect x="551.77" y="858.4" width="14.3" height="26.4"/>
<rect x="572.42" y="858.4" width="14.3" height="26.4"/>
<rect x="593.07" y="858.4" width="14.3" height="26.4"/>
<rect x="613.72" y="858.4" width="14.3" height="26.4"/>
<rect x="634.37" y="858.4" width="14.3" height="26.4"/>
<rect x="655.02" y="858.4" width="14.3" height="26.4"/>
<rect x="675.67" y="858.4" width="14.3" height="26.4"/>
<rect x="696.32" y="858.4" width="14.3" height="26.4"/>
<rect x="716.97" y="858.4" width="14.3" height="26.4"/>
<rect x="737.62" y="858.4" width="14.3" height="26.4"/>
<rect x="758.27" y="858.4" width="14.3" height="26.4"/>
<rect x="799.57" y="858.4" width="14.3" height="26.4"/>
<rect x="820.22" y="858.4" width="14.3" height="26.4"/>
<rect x="840.87" y="858.4" width="14.3" height="26.4"/>
<rect x="861.52" y="858.4" width="14.3" height="26.4"/>
<rect x="882.17" y="858.4" width="14.3" height="26.4"/>
<rect x="76.83" y="891" width="14.3" height="26.4"/>
<rect x="97.48" y="891" width="14.3" height="26.4"/>
<rect x="118.12" y="891" width="14.3" height="26.4"/>
<rect x="138.78" y="891" width="14.3" height="26.4"/>
<rect x="159.43" y="891" width="14.3" height="26.4"/>
<rect x="180.08" y="891" width="14.3" height="26.4"/>
<rect x="200.73" y="891" width="14.3" height="26.4"/>
<rect x="221.38" y="891" width="14.3" height="26.4"/>
<rect x="242.03" y="891" width="14.3" height="26.4"/>
<rect x="283.32" y="891" width="14.3" height="26.4"/>
<rect x="303.97" y="891" width="14.3" height="26.4"/>
<rect x="324.62" y="891" width="14.3" height="26.4"/>
<rect x="345.28" y="891" width="14.3" height="26.4"/>
<rect x="365.93" y="891" width="14.3" height="26.4"/>
<rect x="386.57" y="891" width="14.3" height="26.4"/>
<rect x="427.87" y="891" width="14.3" height="26.4"/>
<rect x="448.53" y="891" width="14.3" height="26.4"/>
<rect x="469.18" y="891" width="14.3" height="26.4"/>
<rect x="489.82" y="891" width="14.3" height="26.4"/>
<rect x="510.47" y="891" width="14.3" height="26.4"/>
<rect x="531.12" y="891" width="14.3" height="26.4"/>
<rect x="551.77" y="891" width="14.3" height="26.4"/>
<rect x="572.42" y="891" width="14.3" height="26.4"/>
<rect x="593.07" y="891" width="14.3" height="26.4"/>
<rect x="613.72" y="891" width="14.3" height="26.4"/>
<rect x="634.37" y="891" width="14.3" height="26.4"/>
<rect x="675.67" y="891" width="14.3" height="26.4"/>
<rect x="716.97" y="891" width="14.3" height="26.4"/>
<rect x="737.62" y="891" width="14.3" height="26.4"/>
<rect x="758.27" y="891" width="14.3" height="26.4"/>
<rect x="778.92" y="891" width="14.3" height="26.4"/>
<rect x="799.57" y="891" width="14.3" height="26.4"/>
<rect x="820.22" y="891" width="14.3" height="26.4"/>
<rect x="840.87" y="891" width="14.3" height="26.4"/>
<rect x="861.52" y="891" width="14.3" height="26.4"/>
<rect x="882.17" y="891" width="14.3" height="26.4"/>
<rect x="76.83" y="923.6" width="14.3" height="26.4"/>
<rect x="97.48" y="923.6" width="14.3" height="26.4"/>
<rect x="118.12" y="923.6" width="14.3" height="26.4"/>
<rect x="138.78" y="923.6" width="14.3" height="26.4"/>
<rect x="159.43" y="923.6" width="14.3" height="26.4"/>
<rect x="180.08" y="923.6" width="14.3" height="26.4"/>
<rect x="200.73" y="923.6" width="14.3" height="26.4"/>
<rect x="221.38" y="923.6" width="14.3" height="26.4"/>
<rect x="242.03" y="923.6" width="14.3" height="26.4"/>
<rect x="262.68" y="923.6" width="14.3" height="26.4"/>
<rect x="303.97" y="923.6" width="14.3" height="26.4"/>
<rect x="324.62" y="923.6" width="14.3" height="26.4"/>
<rect x="345.28" y="923.6" width="14.3" height="26.4"/>
<rect x="365.93" y="923.6" width="14.3" height="26.4"/>
<rect x="386.57" y="923.6" width="14.3" height="26.4"/>
<rect x="448.53" y="923.6" width="14.3" height="26.4"/>
<rect x="469.18" y="923.6" width="14.3" height="26.4"/>
<rect x="489.82" y="923.6" width="14.3" height="26.4"/>
<rect x="510.47" y="923.6" width="14.3" height="26.4"/>
<rect x="531.12" y="923.6" width="14.3" height="26.4"/>
<rect x="551.77" y="923.6" width="14.3" height="26.4"/>
<rect x="572.42" y="923.6" width="14.3" height="26.4"/>
<rect x="593.07" y="923.6" width="14.3" height="26.4"/>
<rect x="613.72" y="923.6" width="14.3" height="26.4"/>
<rect x="634.37" y="923.6" width="14.3" height="26.4"/>
<rect x="655.02" y="923.6" width="14.3" height="26.4"/>
<rect x="675.67" y="923.6" width="14.3" height="26.4"/>
<rect x="696.32" y="923.6" width="14.3" height="26.4"/>
<rect x="716.97" y="923.6" width="14.3" height="26.4"/>
<rect x="737.62" y="923.6" width="14.3" height="26.4"/>
<rect x="758.27" y="923.6" width="14.3" height="26.4"/>
<rect x="799.57" y="923.6" width="14.3" height="26.4"/>
<rect x="820.22" y="923.6" width="14.3" height="26.4"/>
<rect x="840.87" y="923.6" width="14.3" height="26.4"/>
<rect x="861.52" y="923.6" width="14.3" height="26.4"/>
<rect x="882.17" y="923.6" width="14.3" height="26.4"/>
<rect x="76.83" y="956.2" width="14.3" height="26.4"/>
<rect x="118.12" y="956.2" width="14.3" height="26.4"/>
<rect x="138.78" y="956.2" width="14.3" height="26.4"/>
<rect x="159.43" y="956.2" width="14.3" height="26.4"/>
<rect x="242.03" y="956.2" width="14.3" height="26.4"/>
<rect x="262.68" y="956.2" width="14.3" height="26.4"/>
<rect x="283.32" y="956.2" width="14.3" height="26.4"/>
<rect x="303.97" y="956.2" width="14.3" height="26.4"/>
<rect x="324.62" y="956.2" width="14.3" height="26.4"/>
<rect x="345.28" y="956.2" width="14.3" height="26.4"/>
<rect x="365.93" y="956.2" width="14.3" height="26.4"/>
<rect x="386.57" y="956.2" width="14.3" height="26.4"/>
<rect x="407.22" y="956.2" width="14.3" height="26.4"/>
<rect x="427.87" y="956.2" width="14.3" height="26.4"/>
<rect x="448.53" y="956.2" width="14.3" height="26.4"/>
<rect x="469.18" y="956.2" width="14.3" height="26.4"/>
<rect x="489.82" y="956.2" width="14.3" height="26.4"/>
<rect x="510.47" y="956.2" width="14.3" height="26.4"/>
<rect x="531.12" y="956.2" width="14.3" height="26.4"/>
<rect x="551.77" y="956.2" width="14.3" height="26.4"/>
<rect x="572.42" y="956.2" width="14.3" height="26.4"/>
<rect x="593.07" y="956.2" width="14.3" height="26.4"/>
<rect x="613.72" y="956.2" width="14.3" height="26.4"/>
<rect x="634.37" y="956.2" width="14.3" height="26.4"/>
<rect x="655.02" y="956.2" width="14.3" height="26.4"/>
<rect x="675.67" y="956.2" width="14.3" height="26.4"/>
<rect x="696.32" y="956.2" width="14.3" height="26.4"/>
<rect x="716.97" y="956.2" width="14.3" height="26.4"/>
<rect x="737.62" y="956.2" width="14.3" height="26.4"/>
<rect x="758.27" y="956.2" width="14.3" height="26.4"/>
<rect x="778.92" y="956.2" width="14.3" height="26.4"/>
<rect x="799.57" y="956.2" width="14.3" height="26.4"/>
<rect x="820.22" y="956.2" width="14.3" height="26.4"/>
<rect x="840.87" y="956.2" width="14.3" height="26.4"/>
<rect x="861.52" y="956.2" width="14.3" height="26.4"/>
<rect x="882.17" y="956.2" width="14.3" height="26.4"/>
<rect x="76.83" y="988.8" width="14.3" height="26.4"/>
<rect x="97.48" y="988.8" width="14.3" height="26.4"/>
<rect x="118.12" y="988.8" width="14.3" height="26.4"/>
<rect x="138.78" y="988.8" width="14.3" height="26.4"/>
<rect x="159.43" y="988.8" width="14.3" height="26.4"/>
<rect x="180.08" y="988.8" width="14.3" height="26.4"/>
<rect x="200.73" y="988.8" width="14.3" height="26.4"/>
<rect x="221.38" y="988.8" width="14.3" height="26.4"/>
<rect x="242.03" y="988.8" width="14.3" height="26.4"/>
<rect x="262.68" y="988.8" width="14.3" height="26.4"/>
<rect x="283.32" y="988.8" width="14.3" height="26.4"/>
<rect x="303.97" y="988.8" width="14.3" height="26.4"/>
<rect x="324.62" y="988.8" width="14.3" height="26.4"/>
<rect x="345.28" y="988.8" width="14.3" height="26.4"/>
<rect x="365.93" y="988.8" width="14.3" height="26.4"/>
<rect x="386.57" y="988.8" width="14.3" height="26.4"/>
<rect x="469.18" y="988.8" width="14.3" height="26.4"/>
<rect x="489.82" y="988.8" width="14.3" height="26.4"/>
<rect x="510.47" y="988.8" width="14.3" height="26.4"/>
<rect x="531.12" y="988.8" width="14.3" height="26.4"/>
<rect x="551.77" y="988.8" width="14.3" height="26.4"/>
<rect x="572.42" y="988.8" width="14.3" height="26.4"/>
<rect x="593.07" y="988.8" width="14.3" height="26.4"/>
<rect x="613.72" y="988.8" width="14.3" height="26.4"/>
<rect x="634.37" y="988.8" width="14.3" height="26.4"/>
<rect x="655.02" y="988.8" width="14.3" height="26.4"/>
<rect x="675.67" y="988.8" width="14.3" height="26.4"/>
<rect x="696.32" y="988.8" width="14.3" height="26.4"/>
<rect x="716.97" y="988.8" width="14.3" height="26.4"/>
<rect x="737.62" y="988.8" width="14.3" height="26.4"/>
<rect x="758.27" y="988.8" width="14.3" height="26.4"/>
<rect x="799.57" y="988.8" width="14.3" height="26.4"/>
<rect x="820.22" y="988.8" width="14.3" height="26.4"/>
<rect x="840.87" y="988.8" width="14.3" height="26.4"/>
<rect x="861.52" y="988.8" width="14.3" height="26.4"/>
<rect x="882.17" y="988.8" width="14.3" height="26.4"/>
<rect x="76.83" y="1021.4" width="14.3" height="26.4"/>
<rect x="97.48" y="1021.4" width="14.3" height="26.4"/>
<rect x="118.12" y="1021.4" width="14.3" height="26.4"/>
<rect x="138.78" y="1021.4" width="14.3" height="26.4"/>
<rect x="159.43" y="1021.4" width="14.3" height="26.4"/>
<rect x="180.08" y="1021.4" width="14.3" height="26.4"/>
<rect x="200.73" y="1021.4" width="14.3" height="26.4"/>
<rect x="221.38" y="1021.4" width="14.3" height="26.4"/>
<rect x="242.03" y="1021.4" width="14.3" height="26.4"/>
<rect x="262.68" y="1021.4" width="14.3" height="26.4"/>
<rect x="283.32" y="1021.4" width="14.3" height="26.4"/>
<rect x="303.97" y="1021.4" width="14.3" height="26.4"/>
<rect x="324.62" y="1021.4" width="14.3" height="26.4"/>
<rect x="345.28" y="1021.4" width="14.3" height="26.4"/>
<rect x="365.93" y="1021.4" width="14.3" height="26.4"/>
<rect x="386.57" y="1021.4" width="14.3" height="26.4"/>
<rect x="469.18" y="1021.4" width="14.3" height="26.4"/>
<rect x="489.82" y="1021.4" width="14.3" height="26.4"/>
<rect x="510.47" y="1021.4" width="14.3" height="26.4"/>
<rect x="531.12" y="1021.4" width="14.3" height="26.4"/>
<rect x="551.77" y="1021.4" width="14.3" height="26.4"/>
<rect x="572.42" y="1021.4" width="14.3" height="26.4"/>
<rect x="593.07" y="1021.4" width="14.3" height="26.4"/>
<rect x="613.72" y="1021.4" width="14.3" height="26.4"/>
<rect x="634.37" y="1021.4" width="14.3" height="26.4"/>
<rect x="655.02" y="1021.4" width="14.3" height="26.4"/>
<rect x="675.67" y="1021.4" width="14.3" height="26.4"/>
<rect x="696.32" y="1021.4" width="14.3" height="26.4"/>
<rect x="716.97" y="1021.4" width="14.3" height="26.4"/>
<rect x="737.62" y="1021.4" width="14.3" height="26.4"/>
<rect x="758.27" y="1021.4" width="14.3" height="26.4"/>
<rect x="799.57" y="1021.4" width="14.3" height="26.4"/>
<rect x="820.22" y="1021.4" width="14.3" height="26.4"/>
<rect x="840.87" y="1021.4" width="14.3" height="26.4"/>
<rect x="861.52" y="1021.4" width="14.3" height="26.4"/>
<rect x="882.17" y="1021.4" width="14.3" height="26.4"/>
<rect x="76.83" y="1054" width="14.3" height="26.4"/>
<rect x="97.48" y="1054" width="14.3" height="26.4"/>
<rect x="138.78" y="1054" width="14.3" height="26.4"/>
<rect x="159.43" y="1054" width="14.3" height="26.4"/>
<rect x="180.08" y="1054" width="14.3" height="26.4"/>
<rect x="200.73" y="1054" width="14.3" height="26.4"/>
<rect x="221.38" y="1054" width="14.3" height="26.4"/>
<rect x="242.03" y="1054" width="14.3" height="26.4"/>
<rect x="262.68" y="1054" width="14.3" height="26.4"/>
<rect x="283.32" y="1054" width="14.3" height="26.4"/>
<rect x="303.97" y="1054" width="14.3" height="26.4"/>
<rect x="324.62" y="1054" width="14.3" height="26.4"/>
<rect x="345.28" y="1054" width="14.3" height="26.4"/>
<rect x="365.93" y="1054" width="14.3" height="26.4"/>
<rect x="386.57" y="1054" width="14.3" height="26.4"/>
<rect x="407.22" y="1054" width="14.3" height="26.4"/>
<rect x="427.87" y="1054" width="14.3" height="26.4"/>
<rect x="448.53" y="1054" width="14.3" height="26.4"/>
<rect x="469.18" y="1054" width="14.3" height="26.4"/>
<rect x="489.82" y="1054" width="14.3" height="26.4"/>
<rect x="510.47" y="1054" width="14.3" height="26.4"/>
<rect x="531.12" y="1054" width="14.3" height="26.4"/>
<rect x="551.77" y="1054" width="14.3" height="26.4"/>
<rect x="572.42" y="1054" width="14.3" height="26.4"/>
<rect x="593.07" y="1054" width="14.3" height="26.4"/>
<rect x="613.72" y="1054" width="14.3" height="26.4"/>
<rect x="634.37" y="1054" width="14.3" height="26.4"/>
<rect x="655.02" y="1054" width="14.3" height="26.4"/>
<rect x="675.67" y="1054" width="14.3" height="26.4"/>
<rect x="696.32" y="1054" width="14.3" height="26.4"/>
<rect x="758.27" y="1054" width="14.3" height="26.4"/>
<rect x="799.57" y="1054" width="14.3" height="26.4"/>
<rect x="820.22" y="1054" width="14.3" height="26.4"/>
<rect x="840.87" y="1054" width="14.3" height="26.4"/>
<rect x="861.52" y="1054" width="14.3" height="26.4"/>
<rect x="882.17" y="1054" width="14.3" height="26.4"/>
<rect x="76.83" y="1086.6" width="14.3" height="26.4"/>
<rect x="97.48" y="1086.6" width="14.3" height="26.4"/>
<rect x="118.12" y="1086.6" width="14.3" height="26.4"/>
<rect x="138.78" y="1086.6" width="14.3" height="26.4"/>
<rect x="159.43" y="1086.6" width="14.3" height="26.4"/>
<rect x="180.08" y="1086.6" width="14.3" height="26.4"/>
<rect x="200.73" y="1086.6" width="14.3" height="26.4"/>
<rect x="221.38" y="1086.6" width="14.3" height="26.4"/>
<rect x="242.03" y="1086.6" width="14.3" height="26.4"/>
<rect x="262.68" y="1086.6" width="14.3" height="26.4"/>
<rect x="283.32" y="1086.6" width="14.3" height="26.4"/>
<rect x="303.97" y="1086.6" width="14.3" height="26.4"/>
<rect x="324.62" y="1086.6" width="14.3" height="26.4"/>
<rect x="345.28" y="1086.6" width="14.3" height="26.4"/>
<rect x="386.57" y="1086.6" width="14.3" height="26.4"/>
<rect x="407.22" y="1086.6" width="14.3" height="26.4"/>
<rect x="427.87" y="1086.6" width="14.3" height="26.4"/>
<rect x="448.53" y="1086.6" width="14.3" height="26.4"/>
<rect x="469.18" y="1086.6" width="14.3" height="26.4"/>
<rect x="489.82" y="1086.6" width="14.3" height="26.4"/>
<rect x="510.47" y="1086.6" width="14.3" height="26.4"/>
<rect x="531.12" y="1086.6" width="14.3" height="26.4"/>
<rect x="551.77" y="1086.6" width="14.3" height="26.4"/>
<rect x="572.42" y="1086.6" width="14.3" height="26.4"/>
<rect x="593.07" y="1086.6" width="14.3" height="26.4"/>
<rect x="613.72" y="1086.6" width="14.3" height="26.4"/>
<rect x="634.37" y="1086.6" width="14.3" height="26.4"/>
<rect x="655.02" y="1086.6" width="14.3" height="26.4"/>
<rect x="696.32" y="1086.6" width="14.3" height="26.4"/>
<rect x="716.97" y="1086.6" width="14.3" height="26.4"/>
<rect x="737.62" y="1086.6" width="14.3" height="26.4"/>
<rect x="758.27" y="1086.6" width="14.3" height="26.4"/>
<rect x="799.57" y="1086.6" width="14.3" height="26.4"/>
<rect x="820.22" y="1086.6" width="14.3" height="26.4"/>
<rect x="840.87" y="1086.6" width="14.3" height="26.4"/>
<rect x="861.52" y="1086.6" width="14.3" height="26.4"/>
<rect x="76.83" y="1119.2" width="14.3" height="26.4"/>
<rect x="97.48" y="1119.2" width="14.3" height="26.4"/>
<rect x="118.12" y="1119.2" width="14.3" height="26.4"/>
<rect x="138.78" y="1119.2" width="14.3" height="26.4"/>
<rect x="159.43" y="1119.2" width="14.3" height="26.4"/>
<rect x="180.08" y="1119.2" width="14.3" height="26.4"/>
<rect x="200.73" y="1119.2" width="14.3" height="26.4"/>
<rect x="221.38" y="1119.2" width="14.3" height="26.4"/>
<rect x="242.03" y="1119.2" width="14.3" height="26.4"/>
<rect x="262.68" y="1119.2" width="14.3" height="26.4"/>
<rect x="283.32" y="1119.2" width="14.3" height="26.4"/>
<rect x="303.97" y="1119.2" width="14.3" height="26.4"/>
<rect x="324.62" y="1119.2" width="14.3" height="26.4"/>
<rect x="345.28" y="1119.2" width="14.3" height="26.4"/>
<rect x="365.93" y="1119.2" width="14.3" height="26.4"/>
<rect x="386.57" y="1119.2" width="14.3" height="26.4"/>
<rect x="427.87" y="1119.2" width="14.3" height="26.4"/>
<rect x="469.18" y="1119.2" width="14.3" height="26.4"/>
<rect x="489.82" y="1119.2" width="14.3" height="26.4"/>
<rect x="510.47" y="1119.2" width="14.3" height="26.4"/>
<rect x="531.12" y="1119.2" width="14.3" height="26.4"/>
<rect x="572.42" y="1119.2" width="14.3" height="26.4"/>
<rect x="593.07" y="1119.2" width="14.3" height="26.4"/>
<rect x="613.72" y="1119.2" width="14.3" height="26.4"/>
<rect x="634.37" y="1119.2" width="14.3" height="26.4"/>
<rect x="655.02" y="1119.2" width="14.3" height="26.4"/>
<rect x="675.67" y="1119.2" width="14.3" height="26.4"/>
<rect x="696.32" y="1119.2" width="14.3" height="26.4"/>
<rect x="716.97" y="1119.2" width="14.3" height="26.4"/>
<rect x="737.62" y="1119.2" width="14.3" height="26.4"/>
<rect x="758.27" y="1119.2" width="14.3" height="26.4"/>
<rect x="799.57" y="1119.2" width="14.3" height="26.4"/>
<rect x="820.22" y="1119.2" width="14.3" height="26.4"/>
<rect x="840.87" y="1119.2" width="14.3" height="26.4"/>
<rect x="861.52" y="1119.2" width="14.3" height="26.4"/>
<rect x="882.17" y="1119.2" width="14.3" height="26.4"/>
<rect x="76.83" y="1151.8" width="14.3" height="26.4"/>
<rect x="97.48" y="1151.8" width="14.3" height="26.4"/>
<rect x="118.12" y="1151.8" width="14.3" height="26.4"/>
<rect x="138.78" y="1151.8" width="14.3" height="26.4"/>
<rect x="159.43" y="1151.8" width="14.3" height="26.4"/>
<rect x="180.08" y="1151.8" width="14.3" height="26.4"/>
<rect x="200.73" y="1151.8" width="14.3" height="26.4"/>
<rect x="221.38" y="1151.8" width="14.3" height="26.4"/>
<rect x="242.03" y="1151.8" width="14.3" height="26.4"/>
<rect x="283.32" y="1151.8" width="14.3" height="26.4"/>
<rect x="303.97" y="1151.8" width="14.3" height="26.4"/>
<rect x="324.62" y="1151.8" width="14.3" height="26.4"/>
<rect x="345.28" y="1151.8" width="14.3" height="26.4"/>
<rect x="365.93" y="1151.8" width="14.3" height="26.4"/>
<rect x="407.22" y="1151.8" width="14.3" height="26.4"/>
<rect x="427.87" y="1151.8" width="14.3" height="26.4"/>
<rect x="469.18" y="1151.8" width="14.3" height="26.4"/>
<rect x="489.82" y="1151.8" width="14.3" height="26.4"/>
<rect x="510.47" y="1151.8" width="14.3" height="26.4"/>
<rect x="531.12" y="1151.8" width="14.3" height="26.4"/>
<rect x="551.77" y="1151.8" width="14.3" height="26.4"/>
<rect x="572.42" y="1151.8" width="14.3" height="26.4"/>
<rect x="593.07" y="1151.8" width="14.3" height="26.4"/>
<rect x="613.72" y="1151.8" width="14.3" height="26.4"/>
<rect x="655.02" y="1151.8" width="14.3" height="26.4"/>
<rect x="675.67" y="1151.8" width="14.3" height="26.4"/>
<rect x="696.32" y="1151.8" width="14.3" height="26.4"/>
<rect x="716.97" y="1151.8" width="14.3" height="26.4"/>
<rect x="737.62" y="1151.8" width="14.3" height="26.4"/>
<rect x="758.27" y="1151.8" width="14.3" height="26.4"/>
<rect x="778.92" y="1151.8" width="14.3" height="26.4"/>
<rect x="799.57" y="1151.8" width="14.3" height="26.4"/>
<rect x="820.22" y="1151.8" width="14.3" height="26.4"/>
<rect x="840.87" y="1151.8" width="14.3" height="26.4"/>
<rect x="861.52" y="1151.8" width="14.3" height="26.4"/>
<rect x="882.17" y="1151.8" width="14.3" height="26.4"/>
<rect x="76.83" y="1184.4" width="14.3" height="26.4"/>
<rect x="97.48" y="1184.4" width="14.3" height="26.4"/>
<rect x="118.12" y="1184.4" width="14.3" height="26.4"/>
<rect x="138.78" y="1184.4" width="14.3" height="26.4"/>
<rect x="159.43" y="1184.4" width="14.3" height="26.4"/>
<rect x="180.08" y="1184.4" width="14.3" height="26.4"/>
<rect x="200.73" y="1184.4" width="14.3" height="26.4"/>
<rect x="221.38" y="1184.4" width="14.3" height="26.4"/>
<rect x="242.03" y="1184.4" width="14.3" height="26.4"/>
<rect x="262.68" y="1184.4" width="14.3" height="26.4"/>
<rect x="283.32" y="1184.4" width="14.3" height="26.4"/>
<rect x="303.97" y="1184.4" width="14.3" height="26.4"/>
<rect x="324.62" y="1184.4" width="14.3" height="26.4"/>
<rect x="345.28" y="1184.4" width="14.3" height="26.4"/>
<rect x="365.93" y="1184.4" width="14.3" height="26.4"/>
<rect x="407.22" y="1184.4" width="14.3" height="26.4"/>
<rect x="427.87" y="1184.4" width="14.3" height="26.4"/>
<rect x="448.53" y="1184.4" width="14.3" height="26.4"/>
<rect x="469.18" y="1184.4" width="14.3" height="26.4"/>
<rect x="489.82" y="1184.4" width="14.3" height="26.4"/>
<rect x="510.47" y="1184.4" width="14.3" height="26.4"/>
<rect x="531.12" y="1184.4" width="14.3" height="26.4"/>
<rect x="551.77" y="1184.4" width="14.3" height="26.4"/>
<rect x="572.42" y="1184.4" width="14.3" height="26.4"/>
<rect x="593.07" y="1184.4" width="14.3" height="26.4"/>
<rect x="613.72" y="1184.4" width="14.3" height="26.4"/>
<rect x="634.37" y="1184.4" width="14.3" height="26.4"/>
<rect x="655.02" y="1184.4" width="14.3" height="26.4"/>
<rect x="675.67" y="1184.4" width="14.3" height="26.4"/>
<rect x="716.97" y="1184.4" width="14.3" height="26.4"/>
<rect x="737.62" y="1184.4" width="14.3" height="26.4"/>
<rect x="799.57" y="1184.4" width="14.3" height="26.4"/>
<rect x="820.22" y="1184.4" width="14.3" height="26.4"/>
<rect x="840.87" y="1184.4" width="14.3" height="26.4"/>
<rect x="861.52" y="1184.4" width="14.3" height="26.4"/>
<rect x="882.17" y="1184.4" width="14.3" height="26.4"/>
<rect x="76.83" y="1217" width="14.3" height="26.4"/>
<rect x="97.48" y="1217" width="14.3" height="26.4"/>
<rect x="118.12" y="1217" width="14.3" height="26.4"/>
<rect x="138.78" y="1217" width="14.3" height="26.4"/>
<rect x="159.43" y="1217" width="14.3" height="26.4"/>
<rect x="180.08" y="1217" width="14.3" height="26.4"/>
<rect x="200.73" y="1217" width="14.3" height="26.4"/>
<rect x="221.38" y="1217" width="14.3" height="26.4"/>
<rect x="242.03" y="1217" width="14.3" height="26.4"/>
<rect x="262.68" y="1217" width="14.3" height="26.4"/>
<rect x="283.32" y="1217" width="14.3" height="26.4"/>
<rect x="303.97" y="1217" width="14.3" height="26.4"/>
<rect x="345.28" y="1217" width="14.3" height="26.4"/>
<rect x="365.93" y="1217" width="14.3" height="26.4"/>
<rect x="386.57" y="1217" width="14.3" height="26.4"/>
<rect x="427.87" y="1217" width="14.3" height="26.4"/>
<rect x="469.18" y="1217" width="14.3" height="26.4"/>
<rect x="489.82" y="1217" width="14.3" height="26.4"/>
<rect x="510.47" y="1217" width="14.3" height="26.4"/>
<rect x="531.12" y="1217" width="14.3" height="26.4"/>
<rect x="551.77" y="1217" width="14.3" height="26.4"/>
<rect x="572.42" y="1217" width="14.3" height="26.4"/>
<rect x="593.07" y="1217" width="14.3" height="26.4"/>
<rect x="613.72" y="1217" width="14.3" height="26.4"/>
<rect x="634.37" y="1217" width="14.3" height="26.4"/>
<rect x="655.02" y="1217" width="14.3" height="26.4"/>
<rect x="675.67" y="1217" width="14.3" height="26.4"/>
<rect x="696.32" y="1217" width="14.3" height="26.4"/>
<rect x="716.97" y="1217" width="14.3" height="26.4"/>
<rect x="737.62" y="1217" width="14.3" height="26.4"/>
<rect x="778.92" y="1217" width="14.3" height="26.4"/>
<rect x="799.57" y="1217" width="14.3" height="26.4"/>
<rect x="820.22" y="1217" width="14.3" height="26.4"/>
<rect x="840.87" y="1217" width="14.3" height="26.4"/>
<rect x="861.52" y="1217" width="14.3" height="26.4"/>
<rect x="882.17" y="1217" width="14.3" height="26.4"/>
<rect x="76.83" y="1249.6" width="14.3" height="26.4"/>
<rect x="97.48" y="1249.6" width="14.3" height="26.4"/>
<rect x="118.12" y="1249.6" width="14.3" height="26.4"/>
<rect x="138.78" y="1249.6" width="14.3" height="26.4"/>
<rect x="159.43" y="1249.6" width="14.3" height="26.4"/>
<rect x="180.08" y="1249.6" width="14.3" height="26.4"/>
<rect x="200.73" y="1249.6" width="14.3" height="26.4"/>
<rect x="221.38" y="1249.6" width="14.3" height="26.4"/>
<rect x="242.03" y="1249.6" width="14.3" height="26.4"/>
<rect x="262.68" y="1249.6" width="14.3" height="26.4"/>
<rect x="283.32" y="1249.6" width="14.3" height="26.4"/>
<rect x="303.97" y="1249.6" width="14.3" height="26.4"/>
<rect x="324.62" y="1249.6" width="14.3" height="26.4"/>
<rect x="345.28" y="1249.6" width="14.3" height="26.4"/>
<rect x="365.93" y="1249.6" width="14.3" height="26.4"/>
<rect x="386.57" y="1249.6" width="14.3" height="26.4"/>
<rect x="407.22" y="1249.6" width="14.3" height="26.4"/>
<rect x="427.87" y="1249.6" width="14.3" height="26.4"/>
<rect x="469.18" y="1249.6" width="14.3" height="26.4"/>
<rect x="489.82" y="1249.6" width="14.3" height="26.4"/>
<rect x="510.47" y="1249.6" width="14.3" height="26.4"/>
<rect x="531.12" y="1249.6" width="14.3" height="26.4"/>
<rect x="551.77" y="1249.6" width="14.3" height="26.4"/>
<rect x="572.42" y="1249.6" width="14.3" height="26.4"/>
<rect x="593.07" y="1249.6" width="14.3" height="26.4"/>
<rect x="613.72" y="1249.6" width="14.3" height="26.4"/>
<rect x="634.37" y="1249.6" width="14.3" height="26.4"/>
<rect x="655.02" y="1249.6" width="14.3" height="26.4"/>
<rect x="675.67" y="1249.6" width="14.3" height="26.4"/>
<rect x="716.97" y="1249.6" width="14.3" height="26.4"/>
<rect x="737.62" y="1249.6" width="14.3" height="26.4"/>
<rect x="758.27" y="1249.6" width="14.3" height="26.4"/>
<rect x="778.92" y="1249.6" width="14.3" height="26.4"/>
<rect x="799.57" y="1249.6" width="14.3" height="26.4"/>
<rect x="820.22" y="1249.6" width="14.3" height="26.4"/>
<rect x="840.87" y="1249.6" width="14.3" height="26.4"/>
<rect x="861.52" y="1249.6" width="14.3" height="26.4"/>
<rect x="76.83" y="1282.2" width="14.3" height="26.4"/>
<rect x="97.48" y="1282.2" width="14.3" height="26.4"/>
<rect x="118.12" y="1282.2" width="14.3" height="26.4"/>
<rect x="138.78" y="1282.2" width="14.3" height="26.4"/>
<rect x="159.43" y="1282.2" width="14.3" height="26.4"/>
<rect x="180.08" y="1282.2" width="14.3" height="26.4"/>
<rect x="200.73" y="1282.2" width="14.3" height="26.4"/>
<rect x="221.38" y="1282.2" width="14.3" height="26.4"/>
<rect x="242.03" y="1282.2" width="14.3" height="26.4"/>
<rect x="262.68" y="1282.2" width="14.3" height="26.4"/>
<rect x="283.32" y="1282.2" width="14.3" height="26.4"/>
<rect x="303.97" y="1282.2" width="14.3" height="26.4"/>
<rect x="345.28" y="1282.2" width="14.3" height="26.4"/>
<rect x="365.93" y="1282.2" width="14.3" height="26.4"/>
<rect x="386.57" y="1282.2" width="14.3" height="26.4"/>
<rect x="407.22" y="1282.2" width="14.3" height="26.4"/>
<rect x="427.87" y="1282.2" width="14.3" height="26.4"/>
<rect x="469.18" y="1282.2" width="14.3" height="26.4"/>
<rect x="489.82" y="1282.2" width="14.3" height="26.4"/>
<rect x="510.47" y="1282.2" width="14.3" height="26.4"/>
<rect x="531.12" y="1282.2" width="14.3" height="26.4"/>
<rect x="551.77" y="1282.2" width="14.3" height="26.4"/>
<rect x="572.42" y="1282.2" width="14.3" height="26.4"/>
<rect x="593.07" y="1282.2" width="14.3" height="26.4"/>
<rect x="613.72" y="1282.2" width="14.3" height="26.4"/>
<rect x="634.37" y="1282.2" width="14.3" height="26.4"/>
<rect x="655.02" y="1282.2" width="14.3" height="26.4"/>
<rect x="675.67" y="1282.2" width="14.3" height="26.4"/>
<rect x="696.32" y="1282.2" width="14.3" height="26.4"/>
<rect x="716.97" y="1282.2" width="14.3" height="26.4"/>
<rect x="737.62" y="1282.2" width="14.3" height="26.4"/>
<rect x="758.27" y="1282.2" width="14.3" height="26.4"/>
<rect x="799.57" y="1282.2" width="14.3" height="26.4"/>
<rect x="820.22" y="1282.2" width="14.3" height="26.4"/>
<rect x="840.87" y="1282.2" width="14.3" height="26.4"/>
<rect x="861.52" y="1282.2" width="14.3" height="26.4"/>
<rect x="882.17" y="1282.2" width="14.3" height="26.4"/>
</g>
<g id="alts">
<rect x="76.83" y="336.8" width="14.3" height="26.4" fill="#F3F300"/>
<rect x="97.48" y="336.8" width="14.3" height="26.4" fill="#F3F300"/>
<rect x="118.12" y="336.8" width="14.3" height="26.4" fill="#F3F300"/>
<rect x="138.78" y="336.8" width="14.3" height="26.4" fill="#F3F300"/>
<rect x="159.43" y="336.8" width="14.3" height="26.4" fill="#F3F300"/>
<rect x="180.08" y="336.8" width="14.3" height="26.4" fill="#F3F300"/>
<rect x="200.73" y="336.8" width="14.3" height="26.4" fill="#F3F300"/>
<rect x="221.38" y="336.8" width="14.3" height="26.4" fill="#F3F300"/>
<rect x="242.03" y="336.8" width="14.3" height="26.4" fill="#F3F300"/>
<rect x="262.68" y="336.8" width="14.3" height="26.4" fill="#F3F300"/>
<rect x="283.32" y="336.8" width="14.3" height="26.4" fill="#F3F300"/>
<rect x="303.97" y="336.8" width="14.3" height="26.4" fill="#F3F300"/>
<rect x="324.62" y="336.8" width="14.3" height="26.4" fill="#F3F300"/>
<rect x="345.28" y="336.8" width="14.3" height="26.4" fill="#F3F300"/>
<rect x="365.93" y="336.8" width="14.3" height="26.4" fill="#F3F300"/>
<rect x="386.57" y="336.8" width="14.3" height="26.4" fill="#F3F300"/>
<rect x="386.57" y="336.8" width="14.3" height="13.2" fill="#F50000"/>
<rect x="407.22" y="336.8" width="14.3" height="26.4" fill="#F3F300"/>
<rect x="427.87" y="336.8" width="14.3" height="26.4" fill="#F3F300"/>
<rect x="448.53" y="336.8" width="14.3" height="26.4" fill="#F3F300"/>
<rect x="469.18" y="336.8" width="14.3" height="26.4" fill="#F3F300"/>
<rect x="634.37" y="336.8" width="14.3" height="26.4" fill="#F50000"/>
<rect x="489.82" y="369.4" width="14.3" height="26.4" fill="#F3F300"/>
<rect x="510.47" y="369.4" width="14.3" height="26.4" fill="#F3F300"/>
<rect x="531.12" y="369.4" width="14.3" height="26.4" fill="#F3F300"/>
<rect x="551.77" y="369.4" width="14.3" height="26.4" fill="#F3F300"/>
<rect x="572.42" y="369.4" width="14.3" height="26.4" fill="#F3F300"/>
<rect x="593.07" y="369.4" width="14.3" height="26.4" fill="#F3F300"/>
<rect x="613.72" y="369.4" width="14.3" height="26.4" fill="#F3F300"/>
<rect x="634.37" y="369.4" width="14.3" height="26.4" fill="#F3F300"/>
<rect x="655.02" y="369.4" width="14.3" height="26.4" fill="#F3F300"/>
<rect x="675.67" y="369.4" width="14.3" height="26.4" fill="#F3F300"/>
<rect x="696.32" y="369.4" width="14.3" height="26.4" fill="#F3F300"/>
<rect x="716.97" y="369.4" width="14.3" height="26.4" fill="#F3F300"/>
<rect x="737.62" y="369.4" width="14.3" height="26.4" fill="#F3F300"/>
<rect x="758.27" y="369.4" width="14.3" height="26.4" fill="#F3F300"/>
<rect x="758.27" y="369.4" width="14.3" height="13.2" fill="#228B22"/>
<rect x="778.92" y="369.4" width="14.3" height="26.4" fill="#F3F300"/>
<rect x="799.57" y="369.4" width="14.3" height="26.4" fill="#F3F300"/>
<rect x="820.22" y="369.4" width="14.3" height="26.4" fill="#F3F300"/>
<rect x="840.87" y="369.4" width="14.3" height="26.4" fill="#F3F300"/>
<rect x="861.52" y="369.4" width="14.3" height="26.4" fill="#F3F300"/>
<rect x="882.17" y="369.4" width="14.3" height="26.4" fill="#F3F300"/>
<rect x="262.68" y="402" width="14.3" height="26.4" fill="#228B22"/>
<rect x="324.62" y="402" width="14.3" height="26.4" fill="#228B22"/>
<rect x="345.28" y="402" width="14.3" height="26.4" fill="#8E388E"/>
<rect x="365.93" y="402" width="14.3" height="26.4" fill="#228B22"/>
<rect x="386.57" y="402" width="14.3" height="26.4" fill="#228B22"/>
<rect x="407.22" y="402" width="14.3" height="26.4" fill="#228B22"/>
<rect x="427.87" y="402" width="14.3" height="26.4" fill="#8E388E"/>
<rect x="655.02" y="402" width="14.3" height="26.4" fill="#8E388E"/>
<rect x="675.67" y="402" width="14.3" height="26.4" fill="#8E388E"/>
<rect x="696.32" y="402" width="14.3" height="26.4" fill="#228B22"/>
<rect x="716.97" y="402" width="14.3" height="26.4" fill="#228B22"/>
<rect x="737.62" y="402" width="14.3" height="26.4" fill="#228B22"/>
<rect x="820.22" y="402" width="14.3" height="26.4" fill="#8E388E"/>
<rect x="840.87" y="402" width="14.3" height="26.4" fill="#228B22"/>
<rect x="882.17" y="402" width="14.3" height="26.4" fill="#8E388E"/>
<rect x="76.83" y="434.6" width="14.3" height="26.4" fill="#8E388E"/>
<rect x="97.48" y="434.6" width="14.3" height="26.4" fill="#0000FA"/>
<rect x="180.08" y="434.6" width="14.3" height="26.4" fill="#0000FA"/>
<rect x="200.73" y="434.6" width="14.3" height="26.4" fill="#0000FA"/>
<rect x="221.38" y="434.6" width="14.3" height="26.4" fill="#0000FA"/>
<rect x="427.87" y="434.6" width="14.3" height="26.4" fill="#228B22"/>
<rect x="448.53" y="434.6" width="14.3" height="26.4" fill="#8E388E"/>
<rect x="675.67" y="434.6" width="14.3" height="26.4" fill="#228B22"/>
<rect x="820.22" y="434.6" width="14.3" height="26.4" fill="#8E388E"/>
<rect x="180.08" y="467.2" width="14.3" height="26.4" fill="#F50000"/>
<rect x="324.62" y="467.2" width="14.3" height="26.4" fill="#8E388E"/>
<rect x="407.22" y="467.2" width="14.3" height="26.4" fill="#8E388E"/>
<rect x="427.87" y="467.2" width="14.3" height="26.4" fill="#8E388E"/>
<rect x="448.53" y="467.2" width="14.3" height="26.4" fill="#8E388E"/>
<rect x="448.53" y="467.2" width="14.3" height="13.2" fill="#228B22"/>
<rect x="758.27" y="467.2" width="14.3" height="26.4" fill="#8E388E"/>
<rect x="778.92" y="467.2" width="14.3" height="26.4" fill="#8E388E"/>
<rect x="324.62" y="499.8" width="14.3" height="26.4" fill="#8E388E"/>
<rect x="407.22" y="499.8" width="14.3" height="26.4" fill="#8E388E"/>
<rect x="427.87" y="499.8" width="14.3" height="26.4" fill="#8E388E"/>
<rect x="448.53" y="499.8" width="14.3" height="26.4" fill="#8E388E"/>
<rect x="758.27" y="499.8" width="14.3" height="26.4" fill="#8E388E"/>
<rect x="778.92" y="499.8" width="14.3" height="26.4" fill="#8E388E"/>
<rect x="882.17" y="499.8" width="14.3" height="26.4" fill="#F50000"/>
<rect x="180.08" y="532.4" width="14.3" height="26.4" fill="#F50000"/>
<rect x="221.38" y="532.4" width="14.3" height="26.4" fill="#F50000"/>
<rect x="427.87" y="532.4" width="14.3" height="26.4" fill="#F3F300"/>
<rect x="551.77" y="532.4" width="14.3" height="26.4" fill="#F50000"/>
<rect x="758.27" y="532.4" width="14.3" height="26.4" fill="#228B22"/>
<rect x="799.57" y="532.4" width="14.3" height="26.4" fill="#228B22"/>
<rect x="840.87" y="532.4" width="14.3" height="26.4" fill="#228B22"/>
<rect x="324.62" y="565" width="14.3" height="26.4" fill="#8E388E"/>
<rect x="448.53" y="565" width="14.3" height="26.4" fill="#8E388E"/>
<rect x="448.53" y="565" width="14.3" height="13.2" fill="#228B22"/>
<rect x="675.67" y="565" width="14.3" height="26.4" fill="#8E388E"/>
<rect x="758.27" y="565" width="14.3" height="26.4" fill="#228B22"/>
<rect x="778.92" y="565" width="14.3" height="26.4" fill="#8E388E"/>
<rect x="840.87" y="565" width="14.3" height="26.4" fill="#8E388E"/>
<rect x="138.78" y="597.6" width="14.3" height="26.4" fill="#228B22"/>
<rect x="324.62" y="597.6" width="14.3" height="26.4" fill="#228B22"/>
<rect x="427.87" y="597.6" width="14.3" height="26.4" fill="#8E388E"/>
<rect x="448.53" y="597.6" width="14.3" height="26.4" fill="#8E388E"/>
<rect x="634.37" y="597.6" width="14.3" height="26.4" fill="#8E388E"/>
<rect x="778.92" y="597.6" width="14.3" height="26.4" fill="#8E388E"/>
<rect x="778.92" y="597.6" width="14.3" height="13.2" fill="#228B22"/>
<rect x="386.57" y="630.2" width="14.3" height="26.4" fill="#8E388E"/>
<rect x="407.22" y="630.2" width="14.3" height="26.4" fill="#228B22"/>
<rect x="448.53" y="630.2" width="14.3" height="26.4" fill="#8E388E"/>
<rect x="716.97" y="630.2" width="14.3" height="26.4" fill="#228B22"/>
<rect x="758.27" y="630.2" width="14.3" height="26.4" fill="#8E388E"/>
<rect x="778.92" y="630.2" width="14.3" height="26.4" fill="#228B22"/>
<rect x="97.48" y="662.8" width="14.3" height="26.4" fill="#8E388E"/>
<rect x="180.08" y="662.8" width="14.3" height="26.4" fill="#228B22"/>
<rect x="407.22" y="662.8" width="14.3" height="26.4" fill="#228B22"/>
<rect x="716.97" y="662.8" width="14.3" height="26.4" fill="#228B22"/>
<rect x="758.27" y="662.8" width="14.3" height="26.4" fill="#228B22"/>
<rect x="778.92" y="662.8" width="14.3" height="26.4" fill="#228B22"/>
<rect x="324.62" y="695.4" width="14.3" height="26.4" fill="#228B22"/>
<rect x="407.22" y="695.4" width="14.3" height="26.4" fill="#8E388E"/>
<rect x="427.87" y="695.4" width="14.3" height="26.4" fill="#228B22"/>
<rect x="716.97" y="695.4" width="14.3" height="26.4" fill="#228B22"/>
<rect x="758.27" y="695.4" width="14.3" height="26.4" fill="#8E388E"/>
<rect x="758.27" y="695.4" width="14.3" height="13.2" fill="#228B22"/>
<rect x="407.22" y="728" width="14.3" height="26.4" fill="#228B22"/>
<rect x="572.42" y="728" width="14.3" height="26.4" fill="#8E388E"/>
<rect x="716.97" y="728" width="14.3" height="26.4" fill="#228B22"/>
<rect x="758.27" y="728" width="14.3" height="26.4" fill="#228B22"/>
<rect x="778.92" y="728" width="14.3" height="26.4" fill="#8E388E"/>
<rect x="138.78" y="760.6" width="14.3" height="26.4" fill="#228B22"/>
<rect x="324.62" y="760.6" width="14.3" height="26.4" fill="#228B22"/>
<rect x="407.22" y="760.6" width="14.3" height="26.4" fill="#228B22"/>
<rect x="427.87" y="760.6" width="14.3" height="26.4" fill="#228B22"/>
<rect x="758.27" y="760.6" width="14.3" height="26.4" fill="#228B22"/>
<rect x="262.68" y="793.2" width="14.3" height="26.4" fill="#F50000"/>
<rect x="365.93" y="793.2" width="14.3" height="26.4" fill="#228B22"/>
<rect x="407.22" y="793.2" width="14.3" height="26.4" fill="#228B22"/>
<rect x="737.62" y="793.2" width="14.3" height="26.4" fill="#228B22"/>
<rect x="758.27" y="793.2" width="14.3" height="26.4" fill="#228B22"/>
<rect x="324.62" y="825.8" width="14.3" height="26.4" fill="#8E388E"/>
<rect x="407.22" y="825.8" width="14.3" height="26.4" fill="#8E388E"/>
<rect x="427.87" y="825.8" width="14.3" height="26.4" fill="#8E388E"/>
<rect x="758.27" y="825.8" width="14.3" height="26.4" fill="#8E388E"/>
<rect x="778.92" y="825.8" width="14.3" height="26.4" fill="#8E388E"/>
<rect x="324.62" y="858.4" width="14.3" height="26.4" fill="#8E388E"/>
<rect x="448.53" y="858.4" width="14.3" height="26.4" fill="#228B22"/>
<rect x="469.18" y="858.4" width="14.3" height="26.4" fill="#F3F300"/>
<rect x="778.92" y="858.4" width="14.3" height="26.4" fill="#8E388E"/>
<rect x="778.92" y="858.4" width="14.3" height="13.2" fill="#228B22"/>
<rect x="262.68" y="891" width="14.3" height="26.4" fill="#228B22"/>
<rect x="407.22" y="891" width="14.3" height="26.4" fill="#228B22"/>
<rect x="655.02" y="891" width="14.3" height="26.4" fill="#228B22"/>
<rect x="696.32" y="891" width="14.3" height="26.4" fill="#228B22"/>
<rect x="696.32" y="891" width="14.3" height="13.2" fill="#F50000"/>
<rect x="283.32" y="923.6" width="14.3" height="26.4" fill="#228B22"/>
<rect x="407.22" y="923.6" width="14.3" height="26.4" fill="#8E388E"/>
<rect x="427.87" y="923.6" width="14.3" height="26.4" fill="#8E388E"/>
<rect x="427.87" y="923.6" width="14.3" height="13.2" fill="#228B22"/>
<rect x="778.92" y="923.6" width="14.3" height="26.4" fill="#228B22"/>
<rect x="97.48" y="956.2" width="14.3" height="26.4" fill="#0000FA"/>
<rect x="180.08" y="956.2" width="14.3" height="26.4" fill="#0000FA"/>
<rect x="200.73" y="956.2" width="14.3" height="26.4" fill="#0000FA"/>
<rect x="221.38" y="956.2" width="14.3" height="26.4" fill="#0000FA"/>
<rect x="407.22" y="988.8" width="14.3" height="26.4" fill="#228B22"/>
<rect x="427.87" y="988.8" width="14.3" height="26.4" fill="#228B22"/>
<rect x="448.53" y="988.8" width="14.3" height="26.4" fill="#8E388E"/>
<rect x="778.92" y="988.8" width="14.3" height="26.4" fill="#8E388E"/>
<rect x="407.22" y="1021.4" width="14.3" height="26.4" fill="#228B22"/>
<rect x="427.87" y="1021.4" width="14.3" height="26.4" fill="#F3F300"/>
<rect x="448.53" y="1021.4" width="14.3" height="26.4" fill="#8E388E"/>
<rect x="778.92" y="1021.4" width="14.3" height="26.4" fill="#228B22"/>
<rect x="118.12" y="1054" width="14.3" height="26.4" fill="#F3F300"/>
<rect x="716.97" y="1054" width="14.3" height="26.4" fill="#228B22"/>
<rect x="737.62" y="1054" width="14.3" height="26.4" fill="#0000FA"/>
<rect x="778.92" y="1054" width="14.3" height="26.4" fill="#8E388E"/>
<rect x="365.93" y="1086.6" width="14.3" height="26.4" fill="#228B22"/>
<rect x="675.67" y="1086.6" width="14.3" height="26.4" fill="#F50000"/>
<rect x="778.92" y="1086.6" width="14.3" height="26.4" fill="#228B22"/>
<rect x="882.17" y="1086.6" width="14.3" height="26.4" fill="#228B22"/>
<rect x="407.22" y="1119.2" width="14.3" height="26.4" fill="#228B22"/>
<rect x="448.53" y="1119.2" width="14.3" height="26.4" fill="#228B22"/>
<rect x="551.77" y="1119.2" width="14.3" height="26.4" fill="#F50000"/>
<rect x="778.92" y="1119.2" width="14.3" height="26.4" fill="#228B22"/>
<rect x="262.68" y="1151.8" width="14.3" height="26.4" fill="#F50000"/>
<rect x="386.57" y="1151.8" width="14.3" height="26.4" fill="#F50000"/>
<rect x="448.53" y="1151.8" width="14.3" height="26.4" fill="#228B22"/>
<rect x="634.37" y="1151.8" width="14.3" height="26.4" fill="#F50000"/>
<rect x="386.57" y="1184.4" width="14.3" height="26.4" fill="#228B22"/>
<rect x="696.32" y="1184.4" width="14.3" height="26.4" fill="#8E388E"/>
<rect x="758.27" y="1184.4" width="14.3" height="26.4" fill="#8E388E"/>
<rect x="778.92" y="1184.4" width="14.3" height="26.4" fill="#228B22"/>
<rect x="324.62" y="1217" width="14.3" height="26.4" fill="#8E388E"/>
<rect x="407.22" y="1217" width="14.3" height="26.4" fill="#8E388E"/>
<rect x="448.53" y="1217" width="14.3" height="26.4" fill="#8E388E"/>
<rect x="758.27" y="1217" width="14.3" height="26.4" fill="#8E388E"/>
<rect x="448.53" y="1249.6" width="14.3" height="26.4" fill="#228B22"/>
<rect x="696.32" y="1249.6" width="14.3" height="26.4" fill="#228B22"/>
<rect x="882.17" y="1249.6" width="14.3" height="26.4" fill="#F3F300"/>
<rect x="324.62" y="1282.2" width="14.3" height="26.4" fill="#8E388E"/>
<rect x="448.53" y="1282.2" width="14.3" height="26.4" fill="#8E388E"/>
<rect x="778.92" y="1282.2" width="14.3" height="26.4" fill="#8E388E"/>
</g>
<g id="pct">
<text transform="translate(64 350.35) scale(0.99 1.06)" y="10.66" font-size="31" text-anchor="end">52%</text>
<text transform="translate(64 382.95) scale(0.99 1.06)" y="10.66" font-size="31" text-anchor="end">50%</text>
<text transform="translate(64 415.55) scale(0.99 1.06)" y="10.66" font-size="31" text-anchor="end">38%</text>
<text transform="translate(64 448.15) scale(0.99 1.06)" y="10.66" font-size="31" text-anchor="end">23%</text>
<text transform="translate(64 480.75) scale(0.99 1.06)" y="10.66" font-size="31" text-anchor="end">18%</text>
<text transform="translate(64 513.35) scale(0.99 1.06)" y="10.66" font-size="31" text-anchor="end">18%</text>
<text transform="translate(64 545.95) scale(0.99 1.06)" y="10.66" font-size="31" text-anchor="end">18%</text>
<text transform="translate(64 578.55) scale(0.99 1.06)" y="10.66" font-size="31" text-anchor="end">15%</text>
<text transform="translate(64 611.15) scale(0.99 1.06)" y="10.66" font-size="31" text-anchor="end">15%</text>
<text transform="translate(64 643.75) scale(0.99 1.06)" y="10.66" font-size="31" text-anchor="end">15%</text>
<text transform="translate(64 676.35) scale(0.99 1.06)" y="10.66" font-size="31" text-anchor="end">15%</text>
<text transform="translate(64 708.95) scale(0.99 1.06)" y="10.66" font-size="31" text-anchor="end">13%</text>
<text transform="translate(64 741.55) scale(0.99 1.06)" y="10.66" font-size="31" text-anchor="end">13%</text>
<text transform="translate(64 774.15) scale(0.99 1.06)" y="10.66" font-size="31" text-anchor="end">13%</text>
<text transform="translate(64 806.75) scale(0.99 1.06)" y="10.66" font-size="31" text-anchor="end">13%</text>
<text transform="translate(64 839.35) scale(0.99 1.06)" y="10.66" font-size="31" text-anchor="end">13%</text>
<text transform="translate(64 871.95) scale(0.99 1.06)" y="10.66" font-size="31" text-anchor="end">10%</text>
<text transform="translate(64 904.55) scale(0.99 1.06)" y="10.66" font-size="31" text-anchor="end">10%</text>
<text transform="translate(64 937.15) scale(0.99 1.06)" y="10.66" font-size="31" text-anchor="end">10%</text>
<text transform="translate(64 969.75) scale(0.99 1.06)" y="10.66" font-size="31" text-anchor="end">10%</text>
<text transform="translate(64 1002.35) scale(0.99 1.06)" y="10.66" font-size="31" text-anchor="end">10%</text>
<text transform="translate(64 1034.95) scale(0.99 1.06)" y="10.66" font-size="31" text-anchor="end">10%</text>
<text transform="translate(64 1067.55) scale(0.99 1.06)" y="10.66" font-size="31" text-anchor="end">10%</text>
<text transform="translate(64 1100.15) scale(0.99 1.06)" y="10.66" font-size="31" text-anchor="end">10%</text>
<text transform="translate(64 1132.75) scale(0.99 1.06)" y="10.66" font-size="31" text-anchor="end">10%</text>
<text transform="translate(64 1165.35) scale(0.99 1.06)" y="10.66" font-size="31" text-anchor="end">10%</text>
<text transform="translate(64 1197.95) scale(0.99 1.06)" y="10.66" font-size="31" text-anchor="end">10%</text>
<text transform="translate(64 1230.55) scale(0.99 1.06)" y="10.66" font-size="31" text-anchor="end">10%</text>
<text transform="translate(64 1263.15) scale(0.99 1.06)" y="10.66" font-size="31" text-anchor="end">8%</text>
<text transform="translate(64 1295.75) scale(0.99 1.06)" y="10.66" font-size="31" text-anchor="end">8%</text>
</g>
<g id="genes">
<text transform="translate(908.4 350.2) scale(1 1.03)" y="8.53" font-size="24.8" class="b">NTRK1</text>
<text transform="translate(908.4 382.8) scale(1 1.03)" y="8.53" font-size="24.8" class="b">NTRK3</text>
<text transform="translate(908.4 415.4) scale(1 1.03)" y="8.53" font-size="24.8" class="b">TP53</text>
<text transform="translate(908.4 448) scale(1 1.03)" y="8.53" font-size="24.8" class="b">CDKN2A</text>
<text transform="translate(908.4 480.6) scale(1 1.03)" y="8.53" font-size="24.8" class="b">KMT2D</text>
<text transform="translate(907.6 513.2) scale(1 1.03)" y="8.53" font-size="24.8" class="b">ACVR2A</text>
<text transform="translate(908.4 545.8) scale(1 1.03)" y="8.53" font-size="24.8" class="b">TERT</text>
<text transform="translate(907.6 578.4) scale(1 1.03)" y="8.53" font-size="24.8" class="b">ARID1A</text>
<text transform="translate(907.6 611) scale(1 1.03)" y="8.53" font-size="24.8" class="b">ARID1B</text>
<text transform="translate(907.6 643.6) scale(1 1.03)" y="8.53" font-size="24.8" class="b">APC</text>
<text transform="translate(908.4 676.2) scale(1 1.03)" y="8.53" font-size="24.8" class="b">NOTCH1</text>
<text transform="translate(908.4 708.8) scale(1 1.03)" y="8.53" font-size="24.8" class="b">KMT2C</text>
<text transform="translate(907.6 741.4) scale(1 1.03)" y="8.53" font-size="24.8" class="b">ATM</text>
<text transform="translate(908.4 774) scale(1 1.03)" y="8.53" font-size="24.8" class="b">NOTCH3</text>
<text transform="translate(908.4 806.6) scale(1 1.03)" y="8.53" font-size="24.8" class="b">NOTCH4</text>
<text transform="translate(908.4 839.2) scale(1 1.03)" y="8.53" font-size="24.8" class="b">RNF43</text>
<text transform="translate(908.4 871.8) scale(1 1.03)" y="8.53" font-size="24.8" class="b">BRCA2</text>
<text transform="translate(908.4 904.4) scale(1 1.03)" y="8.53" font-size="24.8" class="b">EGFR</text>
<text transform="translate(908.4 937) scale(1 1.03)" y="8.53" font-size="24.8" class="b">FBXW7</text>
<text transform="translate(908.4 969.6) scale(1 1.03)" y="8.53" font-size="24.8" class="b">CDKN2B</text>
<text transform="translate(908.4 1002.2) scale(1 1.03)" y="8.53" font-size="24.8" class="b">CHD4</text>
<text transform="translate(908.4 1034.8) scale(1 1.03)" y="8.53" font-size="24.8" class="b">LRP1</text>
<text transform="translate(908.4 1067.4) scale(1 1.03)" y="8.53" font-size="24.8" class="b">LRP1B</text>
<text transform="translate(908.4 1100) scale(1 1.03)" y="8.53" font-size="24.8" class="b">PIK3CA</text>
<text transform="translate(908.4 1132.6) scale(1 1.03)" y="8.53" font-size="24.8" class="b">PRKAR1A</text>
<text transform="translate(908.4 1165.2) scale(1 1.03)" y="8.53" font-size="24.8" class="b">RIT1</text>
<text transform="translate(908.4 1197.8) scale(1 1.03)" y="8.53" font-size="24.8" class="b">SPTA1</text>
<text transform="translate(908.4 1230.4) scale(1 1.03)" y="8.53" font-size="24.8" class="b">TGFBR2</text>
<text transform="translate(907.6 1263) scale(1 1.03)" y="8.53" font-size="24.8" class="b">ALK</text>
<text transform="translate(907.6 1295.6) scale(1 1.03)" y="8.53" font-size="24.8" class="b">ARID2</text>
</g>
<g id="rowbar-axis">
<line x1="1046" y1="333.6" x2="1222" y2="333.6" stroke="#000" stroke-width="2.3" stroke-linecap="round"/>
<line x1="1046" y1="324.8" x2="1046" y2="333.6" stroke="#000" stroke-width="2.3" stroke-linecap="round"/>
<text transform="translate(1046 307.1) scale(1 1.06)" y="8.53" font-size="24.8" text-anchor="middle">0</text>
<line x1="1122.2" y1="324.8" x2="1122.2" y2="333.6" stroke="#000" stroke-width="2.3" stroke-linecap="round"/>
<text transform="translate(1122.2 307.1) scale(1 1.06)" y="8.53" font-size="24.8" text-anchor="middle">10</text>
<line x1="1198.4" y1="324.8" x2="1198.4" y2="333.6" stroke="#000" stroke-width="2.3" stroke-linecap="round"/>
<text transform="translate(1198.4 307.1) scale(1 1.06)" y="8.53" font-size="24.8" text-anchor="middle">20</text>
</g>
<g id="rowbar">
<rect x="1046" y="340.25" width="152.4" height="19.5" fill="#F3F300"/>
<rect x="1198.4" y="340.25" width="15.24" height="19.5" fill="#F50000"/>
<rect x="1046" y="372.85" width="152.4" height="19.5" fill="#F3F300"/>
<rect x="1198.4" y="372.85" width="7.62" height="19.5" fill="#228B22"/>
<rect x="1046" y="405.45" width="45.72" height="19.5" fill="#8E388E"/>
<rect x="1091.72" y="405.45" width="68.58" height="19.5" fill="#228B22"/>
<rect x="1046" y="438.05" width="22.86" height="19.5" fill="#8E388E"/>
<rect x="1068.86" y="438.05" width="30.48" height="19.5" fill="#0000FA"/>
<rect x="1099.34" y="438.05" width="15.24" height="19.5" fill="#228B22"/>
<rect x="1046" y="470.65" width="45.72" height="19.5" fill="#8E388E"/>
<rect x="1091.72" y="470.65" width="7.62" height="19.5" fill="#228B22"/>
<rect x="1099.34" y="470.65" width="7.62" height="19.5" fill="#F50000"/>
<rect x="1046" y="503.25" width="45.72" height="19.5" fill="#8E388E"/>
<rect x="1091.72" y="503.25" width="7.62" height="19.5" fill="#F50000"/>
<rect x="1046" y="535.85" width="7.62" height="19.5" fill="#F3F300"/>
<rect x="1053.62" y="535.85" width="22.86" height="19.5" fill="#228B22"/>
<rect x="1076.48" y="535.85" width="22.86" height="19.5" fill="#F50000"/>
<rect x="1046" y="568.45" width="38.1" height="19.5" fill="#8E388E"/>
<rect x="1084.1" y="568.45" width="15.24" height="19.5" fill="#228B22"/>
<rect x="1046" y="601.05" width="30.48" height="19.5" fill="#8E388E"/>
<rect x="1076.48" y="601.05" width="22.86" height="19.5" fill="#228B22"/>
<rect x="1046" y="633.65" width="22.86" height="19.5" fill="#8E388E"/>
<rect x="1068.86" y="633.65" width="22.86" height="19.5" fill="#228B22"/>
<rect x="1046" y="666.25" width="7.62" height="19.5" fill="#8E388E"/>
<rect x="1053.62" y="666.25" width="38.1" height="19.5" fill="#228B22"/>
<rect x="1046" y="698.85" width="15.24" height="19.5" fill="#8E388E"/>
<rect x="1061.24" y="698.85" width="30.48" height="19.5" fill="#228B22"/>
<rect x="1046" y="731.45" width="15.24" height="19.5" fill="#8E388E"/>
<rect x="1061.24" y="731.45" width="22.86" height="19.5" fill="#228B22"/>
<rect x="1046" y="764.05" width="38.1" height="19.5" fill="#228B22"/>
<rect x="1046" y="796.65" width="30.48" height="19.5" fill="#228B22"/>
<rect x="1076.48" y="796.65" width="7.62" height="19.5" fill="#F50000"/>
<rect x="1046" y="829.25" width="38.1" height="19.5" fill="#8E388E"/>
<rect x="1046" y="861.85" width="15.24" height="19.5" fill="#8E388E"/>
<rect x="1061.24" y="861.85" width="7.62" height="19.5" fill="#F3F300"/>
<rect x="1068.86" y="861.85" width="15.24" height="19.5" fill="#228B22"/>
<rect x="1046" y="894.45" width="30.48" height="19.5" fill="#228B22"/>
<rect x="1076.48" y="894.45" width="7.62" height="19.5" fill="#F50000"/>
<rect x="1046" y="927.05" width="15.24" height="19.5" fill="#8E388E"/>
<rect x="1061.24" y="927.05" width="22.86" height="19.5" fill="#228B22"/>
<rect x="1046" y="959.65" width="30.48" height="19.5" fill="#0000FA"/>
<rect x="1046" y="992.25" width="15.24" height="19.5" fill="#8E388E"/>
<rect x="1061.24" y="992.25" width="15.24" height="19.5" fill="#228B22"/>
<rect x="1046" y="1024.85" width="7.62" height="19.5" fill="#8E388E"/>
<rect x="1053.62" y="1024.85" width="7.62" height="19.5" fill="#F3F300"/>
<rect x="1061.24" y="1024.85" width="15.24" height="19.5" fill="#228B22"/>
<rect x="1046" y="1057.45" width="7.62" height="19.5" fill="#8E388E"/>
<rect x="1053.62" y="1057.45" width="7.62" height="19.5" fill="#F3F300"/>
<rect x="1061.24" y="1057.45" width="7.62" height="19.5" fill="#0000FA"/>
<rect x="1068.86" y="1057.45" width="7.62" height="19.5" fill="#228B22"/>
<rect x="1046" y="1090.05" width="22.86" height="19.5" fill="#228B22"/>
<rect x="1068.86" y="1090.05" width="7.62" height="19.5" fill="#F50000"/>
<rect x="1046" y="1122.65" width="22.86" height="19.5" fill="#228B22"/>
<rect x="1068.86" y="1122.65" width="7.62" height="19.5" fill="#F50000"/>
<rect x="1046" y="1155.25" width="7.62" height="19.5" fill="#228B22"/>
<rect x="1053.62" y="1155.25" width="22.86" height="19.5" fill="#F50000"/>
<rect x="1046" y="1187.85" width="15.24" height="19.5" fill="#8E388E"/>
<rect x="1061.24" y="1187.85" width="15.24" height="19.5" fill="#228B22"/>
<rect x="1046" y="1220.45" width="30.48" height="19.5" fill="#8E388E"/>
<rect x="1046" y="1253.05" width="7.62" height="19.5" fill="#F3F300"/>
<rect x="1053.62" y="1253.05" width="15.24" height="19.5" fill="#228B22"/>
<rect x="1046" y="1285.65" width="22.86" height="19.5" fill="#8E388E"/>
</g>
<g class="legend">
<text transform="translate(1239.2 345.3) scale(1 1.03)" y="10.66" font-size="31" class="b">Alternations</text>
<rect x="1240.7" y="371.2" width="33" height="32.7" fill="#228B22"/>
<text transform="translate(1283.5 387.45) scale(1 1.04)" y="10.66" font-size="31">Substitution/Indel</text>
<rect x="1240.7" y="406.45" width="33" height="32.7" fill="#F50000"/>
<text transform="translate(1283.5 422.7) scale(1 1.04)" y="10.66" font-size="31">Gene Amplification</text>
<rect x="1240.7" y="441.7" width="33" height="32.7" fill="#0000FA"/>
<text transform="translate(1283.5 457.95) scale(1 1.04)" y="10.66" font-size="31">Gene Homozygous Deletion</text>
<rect x="1240.7" y="476.95" width="33" height="32.7" fill="#F3F300"/>
<text transform="translate(1283.5 493.2) scale(1 1.04)" y="10.66" font-size="31">Fusion/Rearrangement</text>
<rect x="1240.7" y="512.2" width="33" height="32.7" fill="#8E388E"/>
<text transform="translate(1283.5 528.45) scale(1 1.04)" y="10.66" font-size="31">Truncation</text>
</g>
<g class="legend">
<text transform="translate(1240 574.1) scale(1 1.03)" y="10.66" font-size="31" class="b">MSI</text>
<rect x="1240.7" y="600.6" width="33" height="32.7" fill="#FF50A8"/>
<text transform="translate(1283.5 616.85) scale(1 1.04)" y="10.66" font-size="31">Unknown</text>
<rect x="1240.7" y="635.85" width="33" height="32.7" fill="#3048E0"/>
<text transform="translate(1283.5 652.1) scale(1 1.04)" y="10.66" font-size="31">MSS</text>
<rect x="1240.7" y="671.1" width="33" height="32.7" fill="#F5CB27"/>
<text transform="translate(1283.5 687.35) scale(1 1.04)" y="10.66" font-size="31">MSI−H</text>
</g>
<g class="legend">
<text transform="translate(1240 733.85) scale(1 1.03)" y="10.66" font-size="31" class="b">Gender</text>
<rect x="1240.7" y="759.5" width="33" height="32.7" fill="#064034"/>
<text transform="translate(1283.5 775.75) scale(1 1.04)" y="10.66" font-size="31">Male</text>
<rect x="1240.7" y="794.75" width="33" height="32.7" fill="#10FFC8"/>
<text transform="translate(1283.5 811) scale(1 1.04)" y="10.66" font-size="31">Female</text>
</g>
<g class="legend">
<text transform="translate(1240 856.9) scale(1 1.03)" y="10.66" font-size="31" class="b">Tumor.Type</text>
<rect x="1240.7" y="883" width="33" height="32.7" fill="#FFE29A"/>
<text transform="translate(1283.5 899.25) scale(1 1.04)" y="10.66" font-size="31">Soft Tissue Sarcoma</text>
<rect x="1240.7" y="918.25" width="33" height="32.7" fill="#FFE970"/>
<text transform="translate(1283.5 934.5) scale(1 1.04)" y="10.66" font-size="31">Non Small Cell Lung Cancer</text>
<rect x="1240.7" y="953.5" width="33" height="32.7" fill="#FBC99C"/>
<text transform="translate(1283.5 969.75) scale(1 1.04)" y="10.66" font-size="31">Small Cell Lung Cancer</text>
<rect x="1240.7" y="988.75" width="33" height="32.7" fill="#FFA3D7"/>
<text transform="translate(1283.5 1005) scale(1 1.04)" y="10.66" font-size="31">Liver Hepatocellular Carcinoma</text>
<rect x="1240.7" y="1024" width="33" height="32.7" fill="#A97CEE"/>
<text transform="translate(1283.5 1040.25) scale(1 1.04)" y="10.66" font-size="31">Head and Neck Carcinoma</text>
<rect x="1240.7" y="1059.25" width="33" height="32.7" fill="#D4CEFC"/>
<text transform="translate(1283.5 1075.5) scale(1 1.04)" y="10.66" font-size="31">Extrahepatic Cholangiocarcinoma</text>
<rect x="1240.7" y="1094.5" width="33" height="32.7" fill="#FFBDBD"/>
<text transform="translate(1283.5 1110.75) scale(1 1.04)" y="10.66" font-size="31">Colorectal Carcinoma</text>
<rect x="1240.7" y="1129.75" width="33" height="32.7" fill="#A2BCF8"/>
<text transform="translate(1283.5 1146) scale(1 1.04)" y="10.66" font-size="31">Thyroid Carcinoma</text>
<rect x="1240.7" y="1165" width="33" height="32.7" fill="#F79273"/>
<text transform="translate(1283.5 1181.25) scale(1 1.04)" y="10.66" font-size="31">Ovarian Carcinoma</text>
<rect x="1240.7" y="1200.25" width="33" height="32.7" fill="#FF7B9F"/>
<text transform="translate(1283.5 1216.5) scale(1 1.04)" y="10.66" font-size="31">Breast Carcinoma</text>
<rect x="1240.7" y="1235.5" width="33" height="32.7" fill="#FC8FA5"/>
<text transform="translate(1283.5 1251.75) scale(1 1.04)" y="10.66" font-size="31">Intrahepatic Cholangiocarcinoma</text>
<rect x="1240.7" y="1270.75" width="33" height="32.7" fill="#98FF9E"/>
<text transform="translate(1283.5 1287) scale(1 1.04)" y="10.66" font-size="31">Gastric Cancer</text>
</g>
</svg>
</body>
</html>
